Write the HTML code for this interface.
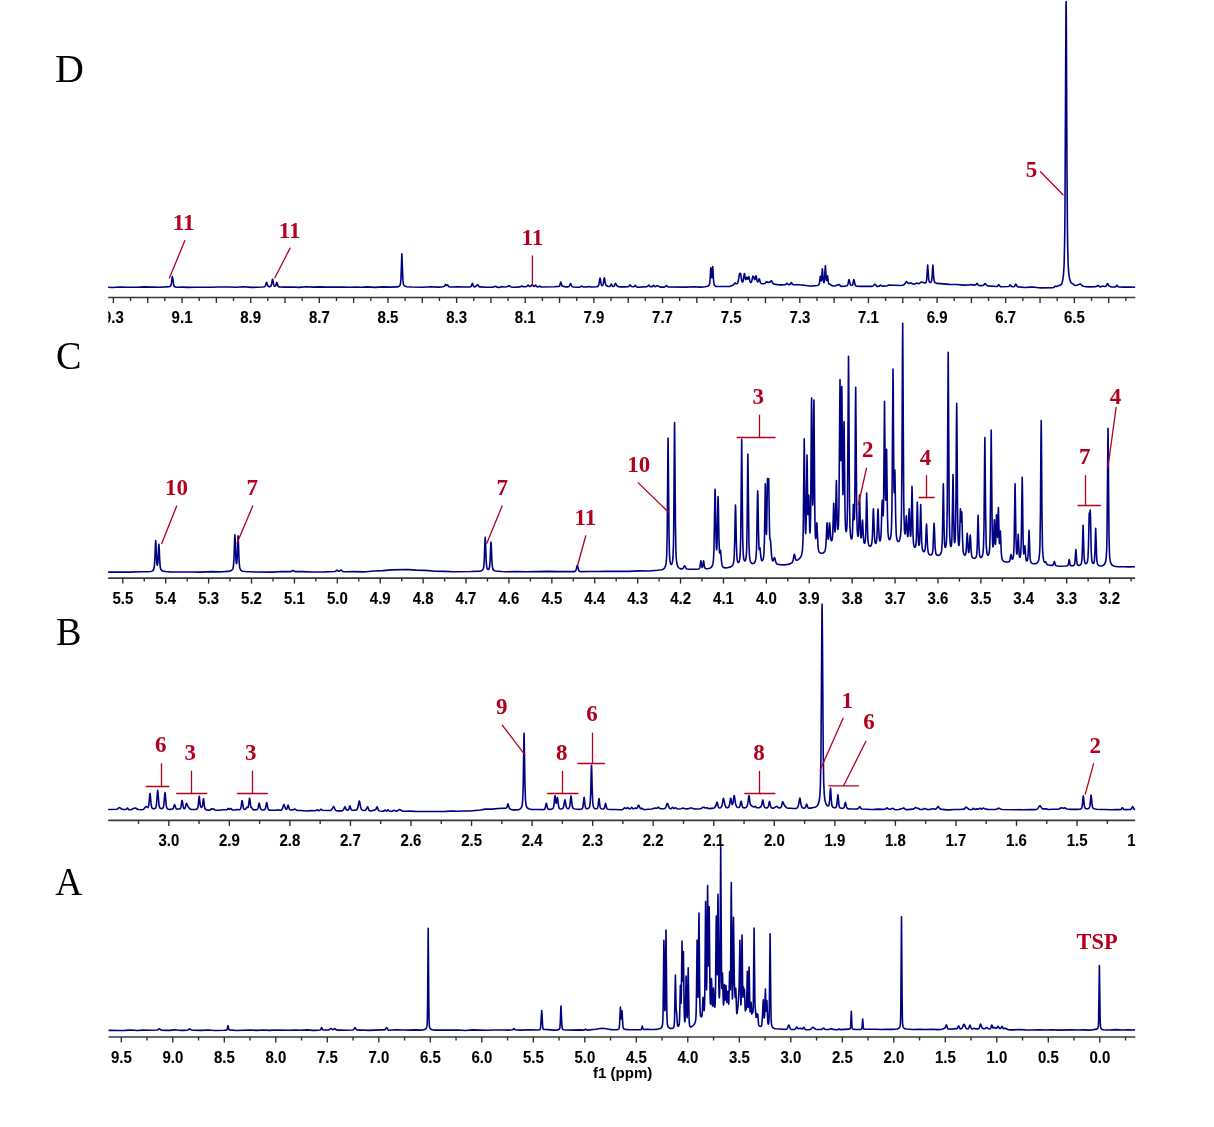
<!DOCTYPE html>
<html><head><meta charset="utf-8"><title>NMR spectra</title>
<style>html,body{margin:0;padding:0;background:#fff;}body{width:1214px;height:1127px;overflow:hidden;font-family:"Liberation Sans",sans-serif;}svg{display:block;filter:blur(0.35px);}</style>
</head><body>
<svg width="1214" height="1127" viewBox="0 0 1214 1127">
<defs><clipPath id="cD"><rect x="108.2" y="300" width="1027.2" height="40"/></clipPath><clipPath id="cC"><rect x="108.2" y="580" width="1027" height="40"/></clipPath><clipPath id="cB"><rect x="108.2" y="822" width="1027" height="40"/></clipPath><clipPath id="cA"><rect x="108.6" y="1038" width="1026.7" height="40"/></clipPath></defs>
<rect width="1214" height="1127" fill="#fff"/>
<text transform="translate(55.0,82.0) scale(1.0,1)" font-family="Liberation Serif" font-size="40" fill="#000">D</text>
<text transform="translate(56.1,369.4) scale(0.955,1)" font-family="Liberation Serif" font-size="40" fill="#000">C</text>
<text transform="translate(56.0,644.9) scale(0.955,1)" font-family="Liberation Serif" font-size="40" fill="#000">B</text>
<text transform="translate(55.2,894.8) scale(0.94,1)" font-family="Liberation Serif" font-size="40" fill="#000">A</text>
<line x1="108.2" y1="297.5" x2="1135.3" y2="297.5" stroke="#383838" stroke-width="1.7"/>
<line x1="1108.68" y1="297.5" x2="1108.68" y2="303.0" stroke="#2a2a2a" stroke-width="1.35"/>
<line x1="1074.36" y1="297.5" x2="1074.36" y2="303.0" stroke="#2a2a2a" stroke-width="1.35"/>
<line x1="1040.04" y1="297.5" x2="1040.04" y2="303.0" stroke="#2a2a2a" stroke-width="1.35"/>
<line x1="1005.72" y1="297.5" x2="1005.72" y2="303.0" stroke="#2a2a2a" stroke-width="1.35"/>
<line x1="971.40" y1="297.5" x2="971.40" y2="303.0" stroke="#2a2a2a" stroke-width="1.35"/>
<line x1="937.08" y1="297.5" x2="937.08" y2="303.0" stroke="#2a2a2a" stroke-width="1.35"/>
<line x1="902.76" y1="297.5" x2="902.76" y2="303.0" stroke="#2a2a2a" stroke-width="1.35"/>
<line x1="868.44" y1="297.5" x2="868.44" y2="303.0" stroke="#2a2a2a" stroke-width="1.35"/>
<line x1="834.12" y1="297.5" x2="834.12" y2="303.0" stroke="#2a2a2a" stroke-width="1.35"/>
<line x1="799.80" y1="297.5" x2="799.80" y2="303.0" stroke="#2a2a2a" stroke-width="1.35"/>
<line x1="765.48" y1="297.5" x2="765.48" y2="303.0" stroke="#2a2a2a" stroke-width="1.35"/>
<line x1="731.16" y1="297.5" x2="731.16" y2="303.0" stroke="#2a2a2a" stroke-width="1.35"/>
<line x1="696.84" y1="297.5" x2="696.84" y2="303.0" stroke="#2a2a2a" stroke-width="1.35"/>
<line x1="662.52" y1="297.5" x2="662.52" y2="303.0" stroke="#2a2a2a" stroke-width="1.35"/>
<line x1="628.20" y1="297.5" x2="628.20" y2="303.0" stroke="#2a2a2a" stroke-width="1.35"/>
<line x1="593.88" y1="297.5" x2="593.88" y2="303.0" stroke="#2a2a2a" stroke-width="1.35"/>
<line x1="559.56" y1="297.5" x2="559.56" y2="303.0" stroke="#2a2a2a" stroke-width="1.35"/>
<line x1="525.24" y1="297.5" x2="525.24" y2="303.0" stroke="#2a2a2a" stroke-width="1.35"/>
<line x1="490.92" y1="297.5" x2="490.92" y2="303.0" stroke="#2a2a2a" stroke-width="1.35"/>
<line x1="456.60" y1="297.5" x2="456.60" y2="303.0" stroke="#2a2a2a" stroke-width="1.35"/>
<line x1="422.28" y1="297.5" x2="422.28" y2="303.0" stroke="#2a2a2a" stroke-width="1.35"/>
<line x1="387.96" y1="297.5" x2="387.96" y2="303.0" stroke="#2a2a2a" stroke-width="1.35"/>
<line x1="353.64" y1="297.5" x2="353.64" y2="303.0" stroke="#2a2a2a" stroke-width="1.35"/>
<line x1="319.32" y1="297.5" x2="319.32" y2="303.0" stroke="#2a2a2a" stroke-width="1.35"/>
<line x1="285.00" y1="297.5" x2="285.00" y2="303.0" stroke="#2a2a2a" stroke-width="1.35"/>
<line x1="250.68" y1="297.5" x2="250.68" y2="303.0" stroke="#2a2a2a" stroke-width="1.35"/>
<line x1="216.36" y1="297.5" x2="216.36" y2="303.0" stroke="#2a2a2a" stroke-width="1.35"/>
<line x1="182.04" y1="297.5" x2="182.04" y2="303.0" stroke="#2a2a2a" stroke-width="1.35"/>
<line x1="147.72" y1="297.5" x2="147.72" y2="303.0" stroke="#2a2a2a" stroke-width="1.35"/>
<line x1="113.40" y1="297.5" x2="113.40" y2="303.0" stroke="#2a2a2a" stroke-width="1.35"/>
<line x1="1125.84" y1="297.5" x2="1125.84" y2="301.0" stroke="#2a2a2a" stroke-width="1.35"/>
<line x1="1091.52" y1="297.5" x2="1091.52" y2="301.0" stroke="#2a2a2a" stroke-width="1.35"/>
<line x1="1057.20" y1="297.5" x2="1057.20" y2="301.0" stroke="#2a2a2a" stroke-width="1.35"/>
<line x1="1022.88" y1="297.5" x2="1022.88" y2="301.0" stroke="#2a2a2a" stroke-width="1.35"/>
<line x1="988.56" y1="297.5" x2="988.56" y2="301.0" stroke="#2a2a2a" stroke-width="1.35"/>
<line x1="954.24" y1="297.5" x2="954.24" y2="301.0" stroke="#2a2a2a" stroke-width="1.35"/>
<line x1="919.92" y1="297.5" x2="919.92" y2="301.0" stroke="#2a2a2a" stroke-width="1.35"/>
<line x1="885.60" y1="297.5" x2="885.60" y2="301.0" stroke="#2a2a2a" stroke-width="1.35"/>
<line x1="851.28" y1="297.5" x2="851.28" y2="301.0" stroke="#2a2a2a" stroke-width="1.35"/>
<line x1="816.96" y1="297.5" x2="816.96" y2="301.0" stroke="#2a2a2a" stroke-width="1.35"/>
<line x1="782.64" y1="297.5" x2="782.64" y2="301.0" stroke="#2a2a2a" stroke-width="1.35"/>
<line x1="748.32" y1="297.5" x2="748.32" y2="301.0" stroke="#2a2a2a" stroke-width="1.35"/>
<line x1="714.00" y1="297.5" x2="714.00" y2="301.0" stroke="#2a2a2a" stroke-width="1.35"/>
<line x1="679.68" y1="297.5" x2="679.68" y2="301.0" stroke="#2a2a2a" stroke-width="1.35"/>
<line x1="645.36" y1="297.5" x2="645.36" y2="301.0" stroke="#2a2a2a" stroke-width="1.35"/>
<line x1="611.04" y1="297.5" x2="611.04" y2="301.0" stroke="#2a2a2a" stroke-width="1.35"/>
<line x1="576.72" y1="297.5" x2="576.72" y2="301.0" stroke="#2a2a2a" stroke-width="1.35"/>
<line x1="542.40" y1="297.5" x2="542.40" y2="301.0" stroke="#2a2a2a" stroke-width="1.35"/>
<line x1="508.08" y1="297.5" x2="508.08" y2="301.0" stroke="#2a2a2a" stroke-width="1.35"/>
<line x1="473.76" y1="297.5" x2="473.76" y2="301.0" stroke="#2a2a2a" stroke-width="1.35"/>
<line x1="439.44" y1="297.5" x2="439.44" y2="301.0" stroke="#2a2a2a" stroke-width="1.35"/>
<line x1="405.12" y1="297.5" x2="405.12" y2="301.0" stroke="#2a2a2a" stroke-width="1.35"/>
<line x1="370.80" y1="297.5" x2="370.80" y2="301.0" stroke="#2a2a2a" stroke-width="1.35"/>
<line x1="336.48" y1="297.5" x2="336.48" y2="301.0" stroke="#2a2a2a" stroke-width="1.35"/>
<line x1="302.16" y1="297.5" x2="302.16" y2="301.0" stroke="#2a2a2a" stroke-width="1.35"/>
<line x1="267.84" y1="297.5" x2="267.84" y2="301.0" stroke="#2a2a2a" stroke-width="1.35"/>
<line x1="233.52" y1="297.5" x2="233.52" y2="301.0" stroke="#2a2a2a" stroke-width="1.35"/>
<line x1="199.20" y1="297.5" x2="199.20" y2="301.0" stroke="#2a2a2a" stroke-width="1.35"/>
<line x1="164.88" y1="297.5" x2="164.88" y2="301.0" stroke="#2a2a2a" stroke-width="1.35"/>
<line x1="130.56" y1="297.5" x2="130.56" y2="301.0" stroke="#2a2a2a" stroke-width="1.35"/>
<g font-family="Liberation Sans" font-weight="bold" font-size="15" text-anchor="middle" fill="#000" stroke="#000" stroke-width="0.1" clip-path="url(#cD)"><text transform="translate(1074.36,323.00) scale(1.0,1.08)">6.5</text><text transform="translate(1005.72,323.00) scale(1.0,1.08)">6.7</text><text transform="translate(937.08,323.00) scale(1.0,1.08)">6.9</text><text transform="translate(868.44,323.00) scale(1.0,1.08)">7.1</text><text transform="translate(799.80,323.00) scale(1.0,1.08)">7.3</text><text transform="translate(731.16,323.00) scale(1.0,1.08)">7.5</text><text transform="translate(662.52,323.00) scale(1.0,1.08)">7.7</text><text transform="translate(593.88,323.00) scale(1.0,1.08)">7.9</text><text transform="translate(525.24,323.00) scale(1.0,1.08)">8.1</text><text transform="translate(456.60,323.00) scale(1.0,1.08)">8.3</text><text transform="translate(387.96,323.00) scale(1.0,1.08)">8.5</text><text transform="translate(319.32,323.00) scale(1.0,1.08)">8.7</text><text transform="translate(250.68,323.00) scale(1.0,1.08)">8.9</text><text transform="translate(182.04,323.00) scale(1.0,1.08)">9.1</text><text transform="translate(113.40,323.00) scale(1.0,1.08)">9.3</text></g>
<line x1="108.2" y1="578.1" x2="1135.1" y2="578.1" stroke="#383838" stroke-width="1.7"/>
<line x1="1109.59" y1="578.1" x2="1109.59" y2="583.6" stroke="#2a2a2a" stroke-width="1.35"/>
<line x1="1066.69" y1="578.1" x2="1066.69" y2="583.6" stroke="#2a2a2a" stroke-width="1.35"/>
<line x1="1023.78" y1="578.1" x2="1023.78" y2="583.6" stroke="#2a2a2a" stroke-width="1.35"/>
<line x1="980.88" y1="578.1" x2="980.88" y2="583.6" stroke="#2a2a2a" stroke-width="1.35"/>
<line x1="937.98" y1="578.1" x2="937.98" y2="583.6" stroke="#2a2a2a" stroke-width="1.35"/>
<line x1="895.07" y1="578.1" x2="895.07" y2="583.6" stroke="#2a2a2a" stroke-width="1.35"/>
<line x1="852.17" y1="578.1" x2="852.17" y2="583.6" stroke="#2a2a2a" stroke-width="1.35"/>
<line x1="809.26" y1="578.1" x2="809.26" y2="583.6" stroke="#2a2a2a" stroke-width="1.35"/>
<line x1="766.36" y1="578.1" x2="766.36" y2="583.6" stroke="#2a2a2a" stroke-width="1.35"/>
<line x1="723.46" y1="578.1" x2="723.46" y2="583.6" stroke="#2a2a2a" stroke-width="1.35"/>
<line x1="680.55" y1="578.1" x2="680.55" y2="583.6" stroke="#2a2a2a" stroke-width="1.35"/>
<line x1="637.65" y1="578.1" x2="637.65" y2="583.6" stroke="#2a2a2a" stroke-width="1.35"/>
<line x1="594.74" y1="578.1" x2="594.74" y2="583.6" stroke="#2a2a2a" stroke-width="1.35"/>
<line x1="551.84" y1="578.1" x2="551.84" y2="583.6" stroke="#2a2a2a" stroke-width="1.35"/>
<line x1="508.94" y1="578.1" x2="508.94" y2="583.6" stroke="#2a2a2a" stroke-width="1.35"/>
<line x1="466.03" y1="578.1" x2="466.03" y2="583.6" stroke="#2a2a2a" stroke-width="1.35"/>
<line x1="423.13" y1="578.1" x2="423.13" y2="583.6" stroke="#2a2a2a" stroke-width="1.35"/>
<line x1="380.22" y1="578.1" x2="380.22" y2="583.6" stroke="#2a2a2a" stroke-width="1.35"/>
<line x1="337.32" y1="578.1" x2="337.32" y2="583.6" stroke="#2a2a2a" stroke-width="1.35"/>
<line x1="294.42" y1="578.1" x2="294.42" y2="583.6" stroke="#2a2a2a" stroke-width="1.35"/>
<line x1="251.51" y1="578.1" x2="251.51" y2="583.6" stroke="#2a2a2a" stroke-width="1.35"/>
<line x1="208.61" y1="578.1" x2="208.61" y2="583.6" stroke="#2a2a2a" stroke-width="1.35"/>
<line x1="165.70" y1="578.1" x2="165.70" y2="583.6" stroke="#2a2a2a" stroke-width="1.35"/>
<line x1="122.80" y1="578.1" x2="122.80" y2="583.6" stroke="#2a2a2a" stroke-width="1.35"/>
<line x1="1131.04" y1="578.1" x2="1131.04" y2="581.6" stroke="#2a2a2a" stroke-width="1.35"/>
<line x1="1088.14" y1="578.1" x2="1088.14" y2="581.6" stroke="#2a2a2a" stroke-width="1.35"/>
<line x1="1045.24" y1="578.1" x2="1045.24" y2="581.6" stroke="#2a2a2a" stroke-width="1.35"/>
<line x1="1002.33" y1="578.1" x2="1002.33" y2="581.6" stroke="#2a2a2a" stroke-width="1.35"/>
<line x1="959.43" y1="578.1" x2="959.43" y2="581.6" stroke="#2a2a2a" stroke-width="1.35"/>
<line x1="916.52" y1="578.1" x2="916.52" y2="581.6" stroke="#2a2a2a" stroke-width="1.35"/>
<line x1="873.62" y1="578.1" x2="873.62" y2="581.6" stroke="#2a2a2a" stroke-width="1.35"/>
<line x1="830.72" y1="578.1" x2="830.72" y2="581.6" stroke="#2a2a2a" stroke-width="1.35"/>
<line x1="787.81" y1="578.1" x2="787.81" y2="581.6" stroke="#2a2a2a" stroke-width="1.35"/>
<line x1="744.91" y1="578.1" x2="744.91" y2="581.6" stroke="#2a2a2a" stroke-width="1.35"/>
<line x1="702.00" y1="578.1" x2="702.00" y2="581.6" stroke="#2a2a2a" stroke-width="1.35"/>
<line x1="659.10" y1="578.1" x2="659.10" y2="581.6" stroke="#2a2a2a" stroke-width="1.35"/>
<line x1="616.20" y1="578.1" x2="616.20" y2="581.6" stroke="#2a2a2a" stroke-width="1.35"/>
<line x1="573.29" y1="578.1" x2="573.29" y2="581.6" stroke="#2a2a2a" stroke-width="1.35"/>
<line x1="530.39" y1="578.1" x2="530.39" y2="581.6" stroke="#2a2a2a" stroke-width="1.35"/>
<line x1="487.48" y1="578.1" x2="487.48" y2="581.6" stroke="#2a2a2a" stroke-width="1.35"/>
<line x1="444.58" y1="578.1" x2="444.58" y2="581.6" stroke="#2a2a2a" stroke-width="1.35"/>
<line x1="401.68" y1="578.1" x2="401.68" y2="581.6" stroke="#2a2a2a" stroke-width="1.35"/>
<line x1="358.77" y1="578.1" x2="358.77" y2="581.6" stroke="#2a2a2a" stroke-width="1.35"/>
<line x1="315.87" y1="578.1" x2="315.87" y2="581.6" stroke="#2a2a2a" stroke-width="1.35"/>
<line x1="272.96" y1="578.1" x2="272.96" y2="581.6" stroke="#2a2a2a" stroke-width="1.35"/>
<line x1="230.06" y1="578.1" x2="230.06" y2="581.6" stroke="#2a2a2a" stroke-width="1.35"/>
<line x1="187.16" y1="578.1" x2="187.16" y2="581.6" stroke="#2a2a2a" stroke-width="1.35"/>
<line x1="144.25" y1="578.1" x2="144.25" y2="581.6" stroke="#2a2a2a" stroke-width="1.35"/>
<g font-family="Liberation Sans" font-weight="bold" font-size="15" text-anchor="middle" fill="#000" stroke="#000" stroke-width="0.1" clip-path="url(#cC)"><text transform="translate(1109.59,603.60) scale(1.0,1.08)">3.2</text><text transform="translate(1066.69,603.60) scale(1.0,1.08)">3.3</text><text transform="translate(1023.78,603.60) scale(1.0,1.08)">3.4</text><text transform="translate(980.88,603.60) scale(1.0,1.08)">3.5</text><text transform="translate(937.98,603.60) scale(1.0,1.08)">3.6</text><text transform="translate(895.07,603.60) scale(1.0,1.08)">3.7</text><text transform="translate(852.17,603.60) scale(1.0,1.08)">3.8</text><text transform="translate(809.26,603.60) scale(1.0,1.08)">3.9</text><text transform="translate(766.36,603.60) scale(1.0,1.08)">4.0</text><text transform="translate(723.46,603.60) scale(1.0,1.08)">4.1</text><text transform="translate(680.55,603.60) scale(1.0,1.08)">4.2</text><text transform="translate(637.65,603.60) scale(1.0,1.08)">4.3</text><text transform="translate(594.74,603.60) scale(1.0,1.08)">4.4</text><text transform="translate(551.84,603.60) scale(1.0,1.08)">4.5</text><text transform="translate(508.94,603.60) scale(1.0,1.08)">4.6</text><text transform="translate(466.03,603.60) scale(1.0,1.08)">4.7</text><text transform="translate(423.13,603.60) scale(1.0,1.08)">4.8</text><text transform="translate(380.22,603.60) scale(1.0,1.08)">4.9</text><text transform="translate(337.32,603.60) scale(1.0,1.08)">5.0</text><text transform="translate(294.42,603.60) scale(1.0,1.08)">5.1</text><text transform="translate(251.51,603.60) scale(1.0,1.08)">5.2</text><text transform="translate(208.61,603.60) scale(1.0,1.08)">5.3</text><text transform="translate(165.70,603.60) scale(1.0,1.08)">5.4</text><text transform="translate(122.80,603.60) scale(1.0,1.08)">5.5</text></g>
<line x1="108.2" y1="820.4" x2="1135.2" y2="820.4" stroke="#383838" stroke-width="1.7"/>
<line x1="1077.05" y1="820.4" x2="1077.05" y2="825.9" stroke="#2a2a2a" stroke-width="1.35"/>
<line x1="1016.50" y1="820.4" x2="1016.50" y2="825.9" stroke="#2a2a2a" stroke-width="1.35"/>
<line x1="955.95" y1="820.4" x2="955.95" y2="825.9" stroke="#2a2a2a" stroke-width="1.35"/>
<line x1="895.40" y1="820.4" x2="895.40" y2="825.9" stroke="#2a2a2a" stroke-width="1.35"/>
<line x1="834.85" y1="820.4" x2="834.85" y2="825.9" stroke="#2a2a2a" stroke-width="1.35"/>
<line x1="774.30" y1="820.4" x2="774.30" y2="825.9" stroke="#2a2a2a" stroke-width="1.35"/>
<line x1="713.75" y1="820.4" x2="713.75" y2="825.9" stroke="#2a2a2a" stroke-width="1.35"/>
<line x1="653.20" y1="820.4" x2="653.20" y2="825.9" stroke="#2a2a2a" stroke-width="1.35"/>
<line x1="592.65" y1="820.4" x2="592.65" y2="825.9" stroke="#2a2a2a" stroke-width="1.35"/>
<line x1="532.10" y1="820.4" x2="532.10" y2="825.9" stroke="#2a2a2a" stroke-width="1.35"/>
<line x1="471.55" y1="820.4" x2="471.55" y2="825.9" stroke="#2a2a2a" stroke-width="1.35"/>
<line x1="411.00" y1="820.4" x2="411.00" y2="825.9" stroke="#2a2a2a" stroke-width="1.35"/>
<line x1="350.45" y1="820.4" x2="350.45" y2="825.9" stroke="#2a2a2a" stroke-width="1.35"/>
<line x1="289.90" y1="820.4" x2="289.90" y2="825.9" stroke="#2a2a2a" stroke-width="1.35"/>
<line x1="229.35" y1="820.4" x2="229.35" y2="825.9" stroke="#2a2a2a" stroke-width="1.35"/>
<line x1="168.80" y1="820.4" x2="168.80" y2="825.9" stroke="#2a2a2a" stroke-width="1.35"/>
<line x1="1107.33" y1="820.4" x2="1107.33" y2="823.9" stroke="#2a2a2a" stroke-width="1.35"/>
<line x1="1046.78" y1="820.4" x2="1046.78" y2="823.9" stroke="#2a2a2a" stroke-width="1.35"/>
<line x1="986.23" y1="820.4" x2="986.23" y2="823.9" stroke="#2a2a2a" stroke-width="1.35"/>
<line x1="925.67" y1="820.4" x2="925.67" y2="823.9" stroke="#2a2a2a" stroke-width="1.35"/>
<line x1="865.12" y1="820.4" x2="865.12" y2="823.9" stroke="#2a2a2a" stroke-width="1.35"/>
<line x1="804.58" y1="820.4" x2="804.58" y2="823.9" stroke="#2a2a2a" stroke-width="1.35"/>
<line x1="744.03" y1="820.4" x2="744.03" y2="823.9" stroke="#2a2a2a" stroke-width="1.35"/>
<line x1="683.48" y1="820.4" x2="683.48" y2="823.9" stroke="#2a2a2a" stroke-width="1.35"/>
<line x1="622.92" y1="820.4" x2="622.92" y2="823.9" stroke="#2a2a2a" stroke-width="1.35"/>
<line x1="562.38" y1="820.4" x2="562.38" y2="823.9" stroke="#2a2a2a" stroke-width="1.35"/>
<line x1="501.82" y1="820.4" x2="501.82" y2="823.9" stroke="#2a2a2a" stroke-width="1.35"/>
<line x1="441.28" y1="820.4" x2="441.28" y2="823.9" stroke="#2a2a2a" stroke-width="1.35"/>
<line x1="380.73" y1="820.4" x2="380.73" y2="823.9" stroke="#2a2a2a" stroke-width="1.35"/>
<line x1="320.18" y1="820.4" x2="320.18" y2="823.9" stroke="#2a2a2a" stroke-width="1.35"/>
<line x1="259.62" y1="820.4" x2="259.62" y2="823.9" stroke="#2a2a2a" stroke-width="1.35"/>
<line x1="199.07" y1="820.4" x2="199.07" y2="823.9" stroke="#2a2a2a" stroke-width="1.35"/>
<line x1="138.53" y1="820.4" x2="138.53" y2="823.9" stroke="#2a2a2a" stroke-width="1.35"/>
<g font-family="Liberation Sans" font-weight="bold" font-size="15" text-anchor="middle" fill="#000" stroke="#000" stroke-width="0.1" clip-path="url(#cB)"><text transform="translate(1137.60,845.90) scale(1.0,1.08)">1.4</text><text transform="translate(1077.05,845.90) scale(1.0,1.08)">1.5</text><text transform="translate(1016.50,845.90) scale(1.0,1.08)">1.6</text><text transform="translate(955.95,845.90) scale(1.0,1.08)">1.7</text><text transform="translate(895.40,845.90) scale(1.0,1.08)">1.8</text><text transform="translate(834.85,845.90) scale(1.0,1.08)">1.9</text><text transform="translate(774.30,845.90) scale(1.0,1.08)">2.0</text><text transform="translate(713.75,845.90) scale(1.0,1.08)">2.1</text><text transform="translate(653.20,845.90) scale(1.0,1.08)">2.2</text><text transform="translate(592.65,845.90) scale(1.0,1.08)">2.3</text><text transform="translate(532.10,845.90) scale(1.0,1.08)">2.4</text><text transform="translate(471.55,845.90) scale(1.0,1.08)">2.5</text><text transform="translate(411.00,845.90) scale(1.0,1.08)">2.6</text><text transform="translate(350.45,845.90) scale(1.0,1.08)">2.7</text><text transform="translate(289.90,845.90) scale(1.0,1.08)">2.8</text><text transform="translate(229.35,845.90) scale(1.0,1.08)">2.9</text><text transform="translate(168.80,845.90) scale(1.0,1.08)">3.0</text></g>
<line x1="108.6" y1="1037.0" x2="1135.3" y2="1037.0" stroke="#383838" stroke-width="1.7"/>
<line x1="1099.80" y1="1037.0" x2="1099.80" y2="1042.5" stroke="#2a2a2a" stroke-width="1.35"/>
<line x1="1048.30" y1="1037.0" x2="1048.30" y2="1042.5" stroke="#2a2a2a" stroke-width="1.35"/>
<line x1="996.80" y1="1037.0" x2="996.80" y2="1042.5" stroke="#2a2a2a" stroke-width="1.35"/>
<line x1="945.30" y1="1037.0" x2="945.30" y2="1042.5" stroke="#2a2a2a" stroke-width="1.35"/>
<line x1="893.80" y1="1037.0" x2="893.80" y2="1042.5" stroke="#2a2a2a" stroke-width="1.35"/>
<line x1="842.30" y1="1037.0" x2="842.30" y2="1042.5" stroke="#2a2a2a" stroke-width="1.35"/>
<line x1="790.80" y1="1037.0" x2="790.80" y2="1042.5" stroke="#2a2a2a" stroke-width="1.35"/>
<line x1="739.30" y1="1037.0" x2="739.30" y2="1042.5" stroke="#2a2a2a" stroke-width="1.35"/>
<line x1="687.80" y1="1037.0" x2="687.80" y2="1042.5" stroke="#2a2a2a" stroke-width="1.35"/>
<line x1="636.30" y1="1037.0" x2="636.30" y2="1042.5" stroke="#2a2a2a" stroke-width="1.35"/>
<line x1="584.80" y1="1037.0" x2="584.80" y2="1042.5" stroke="#2a2a2a" stroke-width="1.35"/>
<line x1="533.30" y1="1037.0" x2="533.30" y2="1042.5" stroke="#2a2a2a" stroke-width="1.35"/>
<line x1="481.80" y1="1037.0" x2="481.80" y2="1042.5" stroke="#2a2a2a" stroke-width="1.35"/>
<line x1="430.30" y1="1037.0" x2="430.30" y2="1042.5" stroke="#2a2a2a" stroke-width="1.35"/>
<line x1="378.80" y1="1037.0" x2="378.80" y2="1042.5" stroke="#2a2a2a" stroke-width="1.35"/>
<line x1="327.30" y1="1037.0" x2="327.30" y2="1042.5" stroke="#2a2a2a" stroke-width="1.35"/>
<line x1="275.80" y1="1037.0" x2="275.80" y2="1042.5" stroke="#2a2a2a" stroke-width="1.35"/>
<line x1="224.30" y1="1037.0" x2="224.30" y2="1042.5" stroke="#2a2a2a" stroke-width="1.35"/>
<line x1="172.80" y1="1037.0" x2="172.80" y2="1042.5" stroke="#2a2a2a" stroke-width="1.35"/>
<line x1="121.30" y1="1037.0" x2="121.30" y2="1042.5" stroke="#2a2a2a" stroke-width="1.35"/>
<line x1="1125.55" y1="1037.0" x2="1125.55" y2="1040.5" stroke="#2a2a2a" stroke-width="1.35"/>
<line x1="1074.05" y1="1037.0" x2="1074.05" y2="1040.5" stroke="#2a2a2a" stroke-width="1.35"/>
<line x1="1022.55" y1="1037.0" x2="1022.55" y2="1040.5" stroke="#2a2a2a" stroke-width="1.35"/>
<line x1="971.05" y1="1037.0" x2="971.05" y2="1040.5" stroke="#2a2a2a" stroke-width="1.35"/>
<line x1="919.55" y1="1037.0" x2="919.55" y2="1040.5" stroke="#2a2a2a" stroke-width="1.35"/>
<line x1="868.05" y1="1037.0" x2="868.05" y2="1040.5" stroke="#2a2a2a" stroke-width="1.35"/>
<line x1="816.55" y1="1037.0" x2="816.55" y2="1040.5" stroke="#2a2a2a" stroke-width="1.35"/>
<line x1="765.05" y1="1037.0" x2="765.05" y2="1040.5" stroke="#2a2a2a" stroke-width="1.35"/>
<line x1="713.55" y1="1037.0" x2="713.55" y2="1040.5" stroke="#2a2a2a" stroke-width="1.35"/>
<line x1="662.05" y1="1037.0" x2="662.05" y2="1040.5" stroke="#2a2a2a" stroke-width="1.35"/>
<line x1="610.55" y1="1037.0" x2="610.55" y2="1040.5" stroke="#2a2a2a" stroke-width="1.35"/>
<line x1="559.05" y1="1037.0" x2="559.05" y2="1040.5" stroke="#2a2a2a" stroke-width="1.35"/>
<line x1="507.55" y1="1037.0" x2="507.55" y2="1040.5" stroke="#2a2a2a" stroke-width="1.35"/>
<line x1="456.05" y1="1037.0" x2="456.05" y2="1040.5" stroke="#2a2a2a" stroke-width="1.35"/>
<line x1="404.55" y1="1037.0" x2="404.55" y2="1040.5" stroke="#2a2a2a" stroke-width="1.35"/>
<line x1="353.05" y1="1037.0" x2="353.05" y2="1040.5" stroke="#2a2a2a" stroke-width="1.35"/>
<line x1="301.55" y1="1037.0" x2="301.55" y2="1040.5" stroke="#2a2a2a" stroke-width="1.35"/>
<line x1="250.05" y1="1037.0" x2="250.05" y2="1040.5" stroke="#2a2a2a" stroke-width="1.35"/>
<line x1="198.55" y1="1037.0" x2="198.55" y2="1040.5" stroke="#2a2a2a" stroke-width="1.35"/>
<line x1="147.05" y1="1037.0" x2="147.05" y2="1040.5" stroke="#2a2a2a" stroke-width="1.35"/>
<g font-family="Liberation Sans" font-weight="bold" font-size="15" text-anchor="middle" fill="#000" stroke="#000" stroke-width="0.1" clip-path="url(#cA)"><text transform="translate(1099.80,1062.50) scale(1.0,1.08)">0.0</text><text transform="translate(1048.30,1062.50) scale(1.0,1.08)">0.5</text><text transform="translate(996.80,1062.50) scale(1.0,1.08)">1.0</text><text transform="translate(945.30,1062.50) scale(1.0,1.08)">1.5</text><text transform="translate(893.80,1062.50) scale(1.0,1.08)">2.0</text><text transform="translate(842.30,1062.50) scale(1.0,1.08)">2.5</text><text transform="translate(790.80,1062.50) scale(1.0,1.08)">3.0</text><text transform="translate(739.30,1062.50) scale(1.0,1.08)">3.5</text><text transform="translate(687.80,1062.50) scale(1.0,1.08)">4.0</text><text transform="translate(636.30,1062.50) scale(1.0,1.08)">4.5</text><text transform="translate(584.80,1062.50) scale(1.0,1.08)">5.0</text><text transform="translate(533.30,1062.50) scale(1.0,1.08)">5.5</text><text transform="translate(481.80,1062.50) scale(1.0,1.08)">6.0</text><text transform="translate(430.30,1062.50) scale(1.0,1.08)">6.5</text><text transform="translate(378.80,1062.50) scale(1.0,1.08)">7.0</text><text transform="translate(327.30,1062.50) scale(1.0,1.08)">7.5</text><text transform="translate(275.80,1062.50) scale(1.0,1.08)">8.0</text><text transform="translate(224.30,1062.50) scale(1.0,1.08)">8.5</text><text transform="translate(172.80,1062.50) scale(1.0,1.08)">9.0</text><text transform="translate(121.30,1062.50) scale(1.0,1.08)">9.5</text></g>
<text x="622.7" y="1078" font-family="Liberation Sans" font-weight="bold" font-size="15" text-anchor="middle">f1 (ppm)</text>
<g fill="none" stroke="#000082" stroke-width="1.6" stroke-linejoin="round">
<path d="M108.20,287.28 112.20,287.55 119.70,286.94 127.95,287.24 136.95,287.20 144.20,286.92 159.95,287.24 169.20,286.62 170.20,286.28 170.70,285.74 170.95,285.18 171.45,282.93 172.20,277.13 172.40,276.57 172.70,277.82 173.45,283.72 173.95,285.71 174.45,286.52 174.95,286.86 175.70,287.09 176.70,287.21 181.95,287.12 188.70,287.42 194.70,287.19 201.70,287.28 211.70,287.19 218.20,286.95 228.95,286.94 236.20,287.21 243.45,286.73 251.45,287.39 262.45,287.04 264.20,286.81 264.95,286.43 265.45,285.67 266.45,282.38 266.60,282.23 266.95,282.93 267.45,284.78 267.95,285.95 268.20,286.25 268.70,286.54 269.70,286.62 270.20,286.53 270.70,286.26 271.20,285.53 271.70,283.72 272.20,280.69 272.45,279.46 272.60,279.22 272.95,280.40 273.70,284.63 273.95,285.42 274.45,286.19 274.95,286.33 275.45,286.00 275.95,284.93 276.45,283.15 276.80,282.48 277.20,283.38 277.70,285.20 278.20,286.30 278.95,286.86 280.20,287.06 284.95,287.13 291.95,287.00 298.95,287.33 306.45,286.82 312.95,287.17 319.70,286.91 326.45,287.16 342.45,287.05 349.95,287.25 355.45,287.13 361.20,287.18 367.45,286.90 374.95,287.42 382.45,286.84 390.45,287.11 396.95,286.92 398.45,286.61 399.45,286.02 399.95,285.36 400.45,283.86 400.95,278.99 401.70,256.92 401.90,253.88 402.70,275.95 402.95,280.40 403.45,284.17 403.70,284.90 404.20,285.69 405.20,286.33 406.95,286.70 411.20,287.01 422.95,287.23 430.70,286.79 436.70,287.17 439.45,287.11 442.70,286.78 443.95,286.51 444.70,285.87 445.60,284.46 446.45,285.35 446.70,285.39 447.50,284.85 448.70,286.47 449.20,286.76 450.20,286.95 452.20,287.04 457.70,286.88 464.45,287.03 469.20,286.97 470.45,286.80 470.95,286.52 471.45,285.76 472.20,283.56 472.40,283.33 472.70,283.82 473.20,285.41 473.70,286.39 474.20,286.78 474.70,286.88 475.45,286.64 476.70,285.37 477.70,284.70 477.95,284.91 478.95,286.54 479.45,286.82 479.95,286.92 486.45,287.21 492.95,287.14 493.70,287.02 494.95,286.40 495.45,286.30 495.95,286.46 497.20,287.20 498.70,287.40 500.45,287.24 501.95,286.44 503.70,286.93 506.95,286.72 507.70,286.49 508.95,285.77 509.45,285.89 510.95,286.95 512.70,287.20 515.45,287.23 519.95,286.91 520.45,286.79 521.70,286.04 521.95,286.07 523.20,286.75 525.45,286.74 526.45,286.58 526.95,286.31 528.10,284.94 529.20,286.19 529.70,286.42 530.20,286.43 530.95,286.04 531.95,284.65 532.20,284.52 532.45,284.70 533.20,285.88 533.70,286.32 534.20,286.40 534.45,286.30 535.60,285.11 536.70,286.46 537.20,286.75 537.95,286.90 538.70,286.79 539.70,286.01 539.95,286.05 540.95,286.86 541.45,286.95 554.70,286.82 557.20,286.45 558.70,286.48 559.20,286.34 559.70,285.67 560.45,282.91 560.80,282.06 560.95,282.24 561.70,285.11 562.20,286.08 562.70,286.30 563.70,286.34 565.45,286.92 567.45,286.86 568.95,286.51 569.45,286.02 570.45,283.59 570.60,283.48 570.95,284.08 571.45,285.54 571.95,286.41 572.45,286.78 573.45,287.05 576.20,287.27 579.70,287.10 580.45,286.87 581.45,286.06 581.70,286.00 582.95,286.81 583.70,286.98 586.70,287.03 588.70,286.55 590.70,287.05 592.20,287.05 596.70,286.68 597.70,286.38 598.20,286.02 598.70,285.09 598.95,284.17 599.70,279.19 600.00,278.06 600.20,278.56 601.20,284.50 601.70,285.47 601.95,285.62 602.45,285.55 602.95,284.84 603.20,284.03 603.95,279.19 604.30,277.70 604.45,277.98 605.20,282.85 605.70,284.67 605.95,285.10 606.45,285.55 607.70,286.20 608.70,286.48 609.45,286.48 609.95,286.26 610.45,285.61 610.95,284.46 611.30,284.00 611.45,284.10 612.45,286.10 612.95,286.45 613.70,286.44 614.20,286.05 614.45,285.65 615.20,283.71 615.45,283.42 615.70,283.66 616.70,285.46 617.70,286.30 618.70,286.70 620.70,286.87 624.70,286.91 627.95,286.63 628.45,286.49 628.95,286.17 629.70,285.14 630.00,284.92 630.20,285.02 630.95,286.05 631.70,286.51 633.20,286.70 633.95,286.60 634.45,286.25 634.95,285.59 635.30,285.34 636.20,286.51 636.70,286.94 637.45,287.17 638.45,287.24 646.95,286.61 647.70,286.30 648.80,285.08 649.95,286.43 650.45,286.69 651.20,286.80 652.20,286.63 653.50,285.27 653.70,285.38 654.45,286.36 654.95,286.64 655.45,286.60 656.95,285.80 657.45,285.70 657.95,285.85 659.70,286.91 660.95,287.12 663.70,287.10 664.70,286.96 665.20,286.67 665.95,285.87 666.45,285.66 667.70,286.67 668.45,286.87 685.95,287.14 693.70,286.75 699.45,287.13 701.70,287.09 704.95,286.72 707.45,286.26 708.45,285.82 709.20,284.96 709.70,283.06 709.95,280.84 710.80,267.85 710.95,268.61 711.45,276.08 711.70,277.69 711.95,276.72 712.45,268.76 712.70,266.45 712.95,269.32 713.45,279.16 713.95,283.85 714.20,284.78 714.70,285.63 715.45,286.16 716.20,286.38 718.45,286.52 729.95,286.37 732.20,285.54 733.20,285.01 735.00,283.04 736.20,283.69 736.95,283.67 737.45,283.26 737.70,282.85 738.20,281.34 739.45,274.01 739.70,273.60 740.45,273.27 740.70,274.03 741.70,280.58 741.95,281.37 742.20,281.81 742.45,281.95 742.70,281.84 742.95,281.44 743.20,280.67 744.20,274.04 744.40,273.48 744.70,274.51 745.20,277.99 745.45,279.16 745.70,279.67 745.95,279.56 746.80,277.33 746.95,277.45 747.45,278.84 747.70,279.19 747.95,279.00 748.45,277.30 748.80,276.58 748.95,276.85 749.95,281.41 750.20,281.99 750.70,282.46 751.20,282.28 751.70,281.33 752.70,276.66 752.95,276.13 753.20,276.18 753.70,276.80 754.45,279.26 754.70,279.66 754.95,279.53 755.20,278.84 755.70,276.46 756.00,275.76 756.20,276.21 756.95,280.27 757.45,281.68 757.70,281.88 757.95,281.78 758.20,281.40 758.95,279.08 759.20,278.76 759.45,279.20 760.20,281.96 760.70,282.99 761.20,283.44 762.20,283.75 763.70,283.80 764.70,283.57 765.45,282.99 766.20,281.96 766.60,281.64 766.95,281.80 767.45,282.34 767.95,282.65 768.20,282.64 769.10,282.06 769.95,282.19 771.20,280.75 771.45,280.77 771.70,281.08 772.70,283.07 773.45,283.86 774.45,284.24 776.00,284.36 777.70,284.74 780.20,284.83 784.95,284.69 785.70,284.42 786.70,283.29 786.90,283.20 788.20,284.50 788.70,284.67 789.45,284.67 790.20,284.23 790.95,283.00 791.30,282.65 791.45,282.71 792.45,284.20 792.95,284.53 793.45,284.65 799.95,284.78 809.95,285.94 812.95,285.88 817.20,285.47 818.20,285.16 818.70,284.81 819.20,283.85 819.45,282.74 820.30,276.26 820.45,276.60 820.95,280.19 821.20,280.94 821.45,280.31 821.70,278.11 822.20,270.35 822.40,268.91 823.20,279.58 823.45,281.58 823.70,282.49 823.95,282.60 824.20,281.97 824.45,280.33 825.20,267.57 825.40,265.78 826.20,278.24 826.45,280.21 826.70,280.43 827.50,275.78 827.70,276.71 828.20,281.33 828.70,283.58 829.20,284.11 830.20,284.50 831.95,285.62 833.45,285.93 834.95,285.98 835.70,285.78 837.20,285.01 838.45,284.89 839.20,284.57 839.45,284.61 839.70,284.84 840.45,285.95 840.70,286.17 841.20,286.34 844.95,286.09 846.70,285.80 847.20,285.54 847.70,284.85 848.20,283.12 848.70,280.35 849.00,279.49 849.20,279.89 849.70,282.53 850.20,284.32 850.70,284.90 851.95,285.37 852.45,285.12 852.70,284.67 853.70,280.07 853.90,279.68 854.20,280.54 854.70,283.31 855.20,285.05 855.70,285.75 856.45,286.09 857.95,286.29 860.45,286.39 871.95,286.34 872.95,286.02 874.45,284.49 874.95,284.20 875.45,284.55 876.20,285.72 876.70,286.20 877.20,286.37 878.20,286.40 879.20,286.16 880.45,285.09 880.95,285.30 881.70,285.97 882.70,286.17 886.20,285.98 887.20,285.72 888.70,285.10 889.45,284.95 892.20,285.31 895.20,285.27 899.70,285.44 902.20,285.24 903.45,284.91 904.45,284.27 905.20,283.34 905.95,282.06 906.45,281.60 906.95,281.92 907.95,283.05 908.45,283.34 909.20,283.40 910.45,282.93 910.95,282.90 912.45,283.93 913.20,284.09 914.45,284.04 915.20,283.88 916.80,283.03 918.20,283.61 918.95,283.62 919.45,283.40 920.70,282.29 921.20,282.16 922.45,282.28 924.45,283.07 925.20,283.01 925.70,282.72 926.20,281.97 926.70,279.54 927.70,264.97 928.70,279.29 929.20,281.59 929.70,282.21 930.20,282.37 930.70,282.27 931.20,281.85 931.70,280.48 932.20,275.80 932.70,266.78 932.90,265.14 933.70,277.25 934.20,281.05 934.70,282.20 935.20,282.67 936.20,283.14 937.45,283.42 948.95,284.42 956.95,284.45 963.70,285.14 969.70,285.05 971.45,284.54 972.70,285.06 973.20,285.12 974.45,284.85 975.45,284.88 975.95,284.76 977.10,283.23 977.45,283.66 977.95,284.67 978.45,285.25 979.20,285.53 980.95,285.63 982.70,285.56 983.45,285.34 983.95,284.85 984.70,283.61 984.95,283.53 986.95,285.52 987.70,285.85 996.95,286.47 997.45,286.26 998.45,284.93 998.70,284.69 998.95,284.67 1000.20,286.43 1000.70,286.68 1001.20,286.73 1008.45,286.50 1009.20,286.08 1009.95,284.97 1010.20,284.80 1010.45,285.00 1011.20,286.17 1011.70,286.55 1012.45,286.72 1013.70,286.70 1014.20,286.55 1014.70,286.13 1015.45,284.57 1015.80,284.10 1015.95,284.20 1016.95,286.21 1017.45,286.62 1018.45,286.87 1024.95,287.45 1030.45,287.09 1032.70,287.07 1038.70,287.75 1040.95,287.89 1052.70,287.70 1053.45,287.58 1053.95,287.35 1054.95,286.39 1055.45,286.12 1056.45,286.51 1056.95,286.57 1058.70,285.48 1060.45,285.11 1060.95,284.80 1061.70,283.75 1062.20,282.42 1062.95,278.89 1063.45,274.90 1063.95,268.01 1064.20,262.17 1064.70,237.68 1064.95,212.74 1065.95,9.70 1066.10,1.60 1066.20,3.91 1066.45,46.60 1066.95,162.91 1067.45,231.27 1067.70,248.25 1068.20,265.15 1068.70,272.61 1069.20,276.65 1069.70,279.09 1070.45,281.38 1071.20,282.74 1071.70,283.19 1072.95,283.69 1074.20,285.01 1074.70,285.27 1075.45,285.44 1076.95,285.29 1080.20,284.05 1080.70,284.22 1081.95,285.51 1082.70,285.97 1083.70,286.28 1085.70,286.62 1088.95,286.85 1095.45,286.60 1096.70,286.31 1097.70,285.59 1098.20,285.45 1099.70,286.68 1100.45,286.86 1100.95,286.78 1102.70,286.12 1103.20,286.15 1104.70,286.58 1105.45,286.42 1106.20,285.78 1107.20,283.90 1107.50,283.57 1107.70,283.67 1108.70,285.36 1109.45,286.13 1110.45,286.66 1111.45,286.87 1113.95,287.00 1115.45,286.85 1115.95,286.54 1116.70,285.48 1117.00,285.25 1117.20,285.36 1118.20,286.68 1119.20,287.00 1123.95,287.12 1130.95,287.00 1135.20,287.22"/>
<path d="M108.20,572.15 120.95,571.93 130.45,572.10 139.70,571.72 147.70,571.78 150.70,571.50 151.70,571.23 152.45,570.87 153.20,570.22 153.70,569.39 154.20,567.51 154.45,565.54 154.95,557.27 155.45,543.80 155.70,540.54 155.95,543.54 156.70,561.05 156.95,563.84 157.20,565.10 157.45,565.13 157.70,563.94 157.95,561.32 158.70,546.03 158.90,544.34 159.20,548.25 159.70,559.90 160.20,566.51 160.45,568.05 160.95,569.53 161.70,570.44 162.70,570.98 165.45,571.56 170.20,571.87 182.95,572.07 192.45,571.96 200.45,572.08 211.20,571.66 219.20,571.86 222.45,571.82 227.45,571.42 230.45,570.88 231.70,570.30 232.45,569.53 232.95,568.52 233.45,566.11 233.95,559.34 234.70,537.37 234.90,534.81 235.20,539.73 235.95,559.74 236.20,562.58 236.45,563.68 236.70,563.28 236.95,561.31 237.20,557.39 237.95,537.19 238.10,535.92 238.45,542.59 238.95,557.62 239.20,562.51 239.70,567.40 240.20,569.17 240.70,569.99 241.20,570.48 241.95,570.92 242.70,571.17 245.20,571.54 255.20,571.98 272.45,572.10 282.45,571.52 290.45,571.59 291.45,571.41 293.00,570.51 294.45,571.37 295.70,571.60 302.45,571.63 312.20,572.06 324.95,571.90 334.70,571.48 335.70,571.15 336.70,570.37 337.00,570.27 338.45,571.16 339.20,571.23 339.70,571.02 340.70,570.10 341.00,569.99 341.45,570.28 342.45,571.29 342.95,571.53 343.95,571.71 346.45,571.78 353.95,571.64 362.95,571.88 366.20,571.73 373.95,571.04 382.70,570.61 391.70,569.90 404.45,569.52 408.45,569.61 416.45,570.09 424.70,570.33 435.45,571.32 444.70,571.41 453.20,571.76 471.20,571.56 479.95,571.15 481.70,570.71 482.70,569.95 483.20,569.10 483.70,567.08 484.20,561.30 484.95,540.75 485.20,537.20 485.45,540.71 486.20,561.14 486.45,564.71 486.95,568.00 487.20,568.69 487.70,569.34 488.20,569.50 488.70,569.29 489.20,568.48 489.70,565.98 490.20,558.86 490.70,546.18 491.00,542.01 491.20,544.03 491.95,561.83 492.45,567.29 492.95,569.20 493.45,569.99 494.45,570.68 495.70,571.02 501.45,571.57 506.45,571.79 515.95,571.55 526.70,571.79 548.45,571.36 558.45,571.61 566.45,571.53 573.70,571.64 574.95,571.39 575.70,570.70 576.20,569.47 576.95,566.22 577.30,565.43 577.70,566.43 578.45,569.64 578.95,570.79 579.70,571.42 581.20,571.67 588.70,571.47 597.20,571.49 606.20,571.24 628.70,571.37 639.70,570.86 649.20,570.99 657.70,570.31 661.70,569.73 663.20,569.18 664.20,568.42 664.95,567.36 665.45,566.14 665.95,564.07 666.20,562.43 666.70,555.81 667.20,534.00 667.95,444.98 668.10,437.94 668.95,529.59 669.45,553.84 669.95,560.83 670.45,563.39 670.95,564.41 671.20,564.57 671.45,564.52 671.70,564.28 672.20,563.06 672.70,560.30 672.95,557.70 673.45,544.85 673.70,529.19 674.45,430.41 674.60,422.63 675.45,525.11 675.95,552.41 676.20,557.57 676.70,562.52 677.45,565.69 677.95,566.78 678.45,567.48 679.20,568.13 680.20,568.60 681.45,568.84 682.45,568.74 683.20,568.18 684.20,566.23 684.60,565.80 684.95,566.16 685.95,568.20 686.45,568.73 687.20,569.05 689.20,569.22 695.45,569.25 697.45,569.18 698.70,568.95 699.45,568.45 699.95,567.18 700.70,561.50 700.90,560.69 701.70,566.05 701.95,567.02 702.20,567.38 702.45,567.22 702.70,566.51 703.45,561.13 703.60,560.71 704.45,566.54 704.95,568.07 705.45,568.51 706.20,568.69 707.20,568.69 708.45,568.52 709.70,568.18 710.45,567.84 711.20,567.31 712.20,565.95 712.95,563.67 713.45,560.09 713.95,550.28 714.95,492.61 715.10,489.33 715.45,503.13 715.95,534.75 716.20,544.27 716.45,549.08 716.70,549.81 716.95,546.66 717.20,539.24 717.95,499.17 718.10,496.59 718.45,509.63 718.95,538.62 719.45,551.85 719.70,553.19 719.95,552.50 720.20,551.00 720.45,550.32 720.50,550.42 720.70,551.73 721.45,561.01 721.95,564.62 722.45,566.22 723.20,567.17 724.20,567.66 725.70,567.84 728.45,567.56 730.70,566.89 731.95,566.07 732.45,565.49 732.95,564.61 733.45,563.09 733.70,561.80 734.20,556.20 734.70,540.94 735.20,514.01 735.50,505.10 735.70,509.25 736.45,546.32 736.95,557.49 737.20,559.83 737.70,561.86 738.20,562.44 738.45,562.43 738.70,562.25 738.95,561.88 739.45,560.43 739.70,559.17 740.20,554.15 740.70,537.87 741.70,439.39 742.70,537.50 743.20,553.58 743.70,558.38 744.20,560.27 744.70,560.93 744.95,560.94 745.20,560.75 745.70,559.62 745.95,558.52 746.45,553.80 746.70,548.24 747.20,519.45 747.70,464.12 747.90,454.01 748.95,542.94 749.45,555.60 749.95,559.65 750.45,561.52 751.20,562.87 751.95,563.45 752.95,563.60 753.95,563.20 754.70,562.38 755.20,561.36 755.70,559.49 755.95,557.84 756.45,550.45 756.70,542.66 757.45,498.48 757.70,490.75 757.95,498.11 758.45,529.37 758.95,546.97 759.20,549.67 759.45,549.73 759.70,548.48 759.95,547.75 760.00,547.84 760.95,557.59 761.45,560.01 761.70,560.47 761.95,560.65 762.45,560.48 762.95,559.67 763.45,557.88 763.95,553.39 764.45,538.72 765.30,483.70 765.45,487.17 765.95,521.54 766.20,532.06 766.45,534.34 766.70,528.34 767.45,479.70 767.50,478.46 767.70,480.25 767.95,488.13 768.20,489.11 768.45,481.78 768.70,478.50 769.45,527.08 769.70,535.99 769.95,539.27 770.45,539.79 770.50,540.05 771.45,554.16 771.70,556.86 772.20,559.85 772.45,560.52 772.70,560.84 772.95,560.86 773.20,560.63 774.20,557.87 774.50,557.56 774.95,558.74 775.70,561.80 776.20,563.06 776.95,563.90 778.20,564.36 780.45,564.63 784.95,564.83 787.95,564.35 789.95,563.88 791.70,562.87 792.20,562.36 792.70,561.45 793.20,559.71 793.95,555.40 794.30,554.27 794.45,554.39 794.70,555.28 795.45,558.79 795.70,559.48 796.20,560.16 796.70,560.27 797.70,559.92 798.70,559.27 799.70,558.33 800.70,556.99 801.45,555.29 801.95,553.37 802.45,549.91 802.95,541.29 803.20,531.18 804.20,438.75 804.45,453.89 804.95,509.24 805.20,525.03 805.45,532.43 805.70,533.57 805.95,529.03 806.20,517.62 807.00,455.01 807.20,462.98 807.70,505.27 807.95,514.68 808.20,513.47 808.80,495.04 809.70,530.02 809.95,532.87 810.20,531.14 810.45,523.94 810.70,508.49 811.45,406.53 811.60,398.03 812.45,494.72 812.70,505.27 812.95,500.87 813.20,481.38 813.70,411.48 813.95,400.02 814.70,500.75 814.95,520.99 815.20,531.83 815.45,536.91 815.70,538.53 815.95,537.58 816.70,524.22 816.90,522.86 817.95,545.15 818.20,548.07 818.70,550.91 818.95,551.59 819.45,552.39 820.20,552.97 820.95,553.19 821.95,553.19 822.95,552.94 823.70,552.56 824.45,551.90 824.95,551.12 825.20,550.23 825.70,547.02 826.20,539.67 826.95,523.13 827.00,522.90 827.20,524.20 827.70,534.02 827.95,537.56 828.20,539.18 828.45,538.92 828.70,536.84 829.45,523.92 829.60,522.92 829.95,526.37 830.70,538.04 830.95,539.69 831.20,540.50 831.45,540.78 831.70,540.69 831.95,540.27 832.45,537.65 832.70,534.34 833.70,503.35 833.95,508.18 834.45,525.88 834.70,530.51 834.95,531.94 835.20,530.44 835.45,525.48 836.20,486.13 836.40,480.50 837.20,518.55 837.45,525.60 837.70,528.73 837.95,529.31 838.20,528.13 838.45,525.12 838.95,507.46 840.00,379.61 840.20,391.14 840.70,452.99 840.95,460.79 841.20,446.78 841.80,386.55 841.95,394.88 842.45,464.37 842.70,486.72 842.95,494.60 843.20,489.04 843.95,424.85 844.10,421.65 844.95,505.06 845.20,518.65 845.45,525.88 845.70,529.47 845.95,531.11 846.20,531.57 846.45,531.05 846.70,529.39 846.95,525.98 847.20,519.17 847.45,505.70 848.50,356.40 848.70,373.73 849.45,499.14 849.95,526.72 850.45,534.85 850.95,537.98 851.20,538.71 851.45,539.02 851.70,538.89 851.95,538.19 852.20,536.50 852.45,533.08 853.40,504.36 854.20,519.74 854.45,517.47 854.70,506.86 854.95,484.76 855.45,408.42 855.70,387.30 856.70,510.13 857.20,530.07 857.70,535.51 857.95,536.30 858.20,536.00 858.45,534.08 858.70,529.50 859.45,497.56 859.60,495.06 860.45,529.30 860.70,534.88 860.95,537.42 861.20,537.85 861.45,536.54 862.20,523.41 862.50,520.13 862.70,522.02 863.20,533.17 863.70,540.47 863.95,542.12 864.20,542.94 864.45,543.24 864.70,543.14 864.95,542.65 865.20,541.56 865.45,539.34 865.70,534.94 865.95,526.96 866.45,500.36 866.70,493.03 867.70,535.57 867.95,540.17 868.45,543.97 868.70,544.81 869.20,545.74 869.95,546.26 870.45,546.15 870.95,545.70 871.45,544.72 871.95,542.22 872.45,535.03 873.20,511.59 873.40,508.90 873.70,514.29 874.45,536.40 874.95,541.87 875.20,542.88 875.45,543.33 875.70,543.44 875.95,543.25 876.20,542.72 876.45,541.65 876.70,539.66 877.20,530.64 877.70,514.50 878.00,509.11 878.20,511.54 878.70,527.17 879.20,537.34 879.45,539.56 879.70,540.60 879.95,540.89 880.20,540.67 880.45,539.92 880.95,535.78 881.20,531.27 881.95,505.46 882.20,500.24 882.45,502.90 882.95,515.00 883.20,515.77 883.45,509.38 883.70,492.86 884.50,401.42 885.45,496.48 885.70,500.18 885.95,491.09 886.45,453.12 886.60,449.36 887.45,514.78 887.95,532.05 888.45,537.20 888.95,539.07 889.20,539.47 889.45,539.64 889.70,539.58 890.20,538.81 890.45,538.03 890.95,535.25 891.45,528.90 891.95,509.00 893.00,369.08 893.20,383.90 893.70,464.80 893.95,487.03 894.20,492.64 894.70,473.52 894.90,469.95 895.70,518.41 896.20,533.44 896.45,536.46 896.95,539.42 897.20,540.23 897.70,541.17 897.95,541.41 898.45,541.54 898.95,541.21 899.20,540.87 899.70,539.71 900.45,536.05 900.95,530.46 901.45,515.11 901.95,463.25 902.45,353.60 902.70,323.32 903.70,496.34 903.95,514.92 904.45,529.80 904.70,532.61 904.95,533.88 905.20,533.68 905.45,531.78 906.20,517.36 906.40,515.78 907.45,535.21 907.70,536.70 907.95,536.11 908.45,527.94 908.95,512.51 909.20,508.82 909.45,512.60 910.20,533.42 910.45,536.11 910.70,536.16 910.95,533.08 911.20,525.75 912.00,486.40 912.20,492.26 912.95,533.75 913.45,542.98 913.95,545.82 914.45,546.94 914.95,547.24 915.20,547.11 915.70,545.97 915.95,544.45 916.20,541.42 916.45,535.69 917.30,501.97 917.45,504.55 918.20,537.04 918.45,541.99 918.70,544.39 918.95,545.27 919.20,545.08 919.45,543.63 919.70,540.15 920.70,504.43 921.70,541.96 922.20,548.26 922.70,550.29 922.95,550.83 923.45,551.44 923.95,551.64 924.20,551.58 924.70,550.94 925.20,548.54 925.70,541.31 926.20,528.27 926.50,524.03 926.70,526.22 927.45,545.07 927.70,548.70 928.20,552.26 928.45,553.09 928.95,554.04 929.95,554.94 930.70,555.02 931.20,554.88 931.70,554.50 932.20,553.64 932.70,551.33 932.95,548.79 933.95,524.66 934.10,523.36 934.45,529.52 934.95,543.62 935.20,548.19 935.70,552.69 935.95,553.66 936.45,554.63 937.20,555.23 937.95,555.40 938.95,555.26 939.70,554.86 940.45,554.08 940.95,553.12 941.45,551.39 941.70,549.87 942.20,542.53 942.45,533.86 943.30,483.69 943.45,487.35 943.95,521.94 944.45,541.70 944.70,545.32 944.95,546.95 945.20,547.52 945.45,547.46 945.95,545.74 946.45,541.01 946.70,536.13 947.20,510.16 948.20,352.19 949.20,509.98 949.70,535.81 950.20,543.41 950.45,545.11 950.70,546.07 950.95,546.43 951.20,546.16 951.45,545.04 951.70,542.41 951.95,536.93 953.00,474.57 953.20,481.59 953.70,520.02 954.20,539.06 954.45,541.96 954.70,542.59 954.95,541.62 955.20,538.78 955.45,532.66 955.95,498.13 956.45,423.91 956.70,403.42 956.95,424.10 957.45,498.72 957.70,521.22 957.95,533.76 958.20,540.22 958.45,543.50 958.70,545.09 958.95,545.45 959.20,544.35 959.45,541.04 960.40,508.84 960.95,520.65 961.20,521.91 961.70,511.95 961.80,511.83 962.45,536.42 962.95,548.82 963.45,552.86 963.95,554.35 964.45,555.00 964.95,555.15 965.45,554.66 965.95,552.53 966.45,546.27 966.95,535.84 967.20,533.35 967.45,535.78 968.20,549.64 968.45,551.72 968.70,552.45 968.95,551.94 969.20,550.10 969.95,537.23 970.20,535.04 970.45,537.57 971.20,551.68 971.70,555.69 971.95,556.58 972.45,557.50 972.95,557.96 973.70,558.28 974.45,558.33 975.20,558.09 975.70,557.67 976.20,556.80 976.70,554.66 977.20,547.41 977.95,517.67 978.10,515.32 978.95,546.02 979.45,554.12 979.70,555.61 980.20,556.91 980.70,557.35 981.20,557.36 981.70,556.98 982.20,556.13 982.70,554.50 982.95,553.14 983.45,547.73 983.95,529.89 984.70,448.68 984.90,437.51 985.70,518.77 986.20,544.16 986.70,551.51 987.20,554.12 987.70,555.15 987.95,555.30 988.20,555.24 988.70,554.48 988.95,553.67 989.45,550.57 989.70,547.43 990.20,530.85 991.20,430.17 992.20,529.73 992.45,540.09 992.70,545.08 992.95,546.95 993.20,546.48 993.45,543.37 994.30,519.82 994.45,521.70 994.95,538.44 995.20,543.44 995.45,544.28 995.70,540.79 996.50,514.79 996.70,518.13 997.20,535.16 997.45,537.35 997.70,533.17 998.20,511.67 998.40,507.61 999.20,539.37 999.45,543.70 999.70,543.10 1000.20,532.87 1000.40,531.08 1001.20,550.95 1001.45,554.94 1001.95,558.53 1002.20,559.33 1002.70,560.28 1003.45,561.07 1004.20,561.51 1005.20,561.86 1006.45,562.06 1007.70,562.05 1008.70,561.84 1009.45,561.28 1009.95,560.10 1010.70,555.71 1011.00,554.56 1011.20,554.93 1011.95,558.63 1012.20,559.14 1012.45,559.23 1012.70,559.00 1012.95,558.47 1013.45,556.20 1013.70,553.79 1014.20,540.87 1014.95,487.90 1015.10,483.69 1015.95,537.84 1016.45,551.69 1016.70,553.75 1016.95,554.14 1017.20,552.92 1018.20,534.20 1019.20,554.56 1019.45,556.51 1019.70,557.30 1019.95,557.39 1020.20,556.97 1020.70,554.12 1021.20,543.45 1022.20,477.22 1022.45,488.83 1022.95,530.78 1023.20,543.33 1023.45,550.14 1023.70,553.22 1023.95,553.92 1024.20,552.74 1024.70,546.70 1024.90,545.70 1025.95,558.95 1026.20,560.13 1026.45,560.71 1026.70,560.95 1026.95,560.95 1027.20,560.73 1027.45,560.18 1027.70,559.02 1027.95,556.67 1028.20,552.29 1029.00,530.36 1029.20,533.44 1029.95,555.72 1030.20,558.93 1030.70,561.61 1031.20,562.60 1031.95,563.28 1032.95,563.67 1033.95,563.80 1035.20,563.74 1036.45,563.37 1037.20,562.88 1037.95,561.93 1038.70,559.99 1039.20,557.37 1039.70,551.57 1039.95,545.12 1040.45,511.44 1040.95,440.31 1041.20,420.67 1041.45,440.33 1041.95,511.52 1042.45,545.26 1042.70,551.73 1043.20,557.58 1043.70,560.22 1043.95,561.03 1044.45,562.02 1044.70,562.22 1044.95,562.23 1045.45,561.85 1045.70,561.83 1046.70,563.89 1047.20,564.44 1047.70,564.72 1049.70,565.23 1051.95,565.40 1052.70,565.22 1053.20,564.67 1054.30,561.46 1054.45,561.65 1055.45,564.98 1055.70,565.34 1056.20,565.70 1057.45,566.00 1059.95,566.18 1065.95,565.96 1067.20,565.74 1067.70,565.48 1067.95,565.19 1068.45,563.69 1068.95,560.51 1069.20,559.63 1069.45,560.51 1069.95,563.70 1070.45,565.20 1070.95,565.64 1071.70,565.83 1072.70,565.82 1073.45,565.64 1073.95,565.33 1074.45,564.60 1074.95,562.18 1075.70,551.17 1075.90,549.65 1076.70,560.64 1077.20,564.06 1077.70,565.03 1078.45,565.41 1079.45,565.36 1080.45,564.80 1080.95,564.17 1081.45,562.89 1081.95,559.25 1082.45,547.54 1082.95,527.50 1083.10,525.32 1083.95,553.39 1084.20,558.20 1084.45,560.78 1084.95,562.85 1085.20,563.27 1085.70,563.64 1086.20,563.61 1086.70,563.20 1087.20,562.27 1087.45,561.45 1087.95,557.89 1088.45,546.57 1089.20,513.15 1089.45,513.49 1089.70,515.89 1090.20,510.08 1090.45,515.17 1091.20,550.75 1091.70,559.30 1092.20,561.99 1092.70,563.06 1092.95,563.32 1093.45,563.42 1093.95,562.84 1094.20,562.05 1094.45,560.49 1094.95,551.89 1095.45,533.45 1095.70,528.37 1096.70,557.90 1096.95,561.10 1097.45,563.78 1097.95,564.79 1098.70,565.49 1099.70,565.85 1100.95,565.93 1102.20,565.74 1103.45,565.22 1104.20,564.60 1104.95,563.46 1105.70,561.10 1106.20,557.75 1106.70,549.17 1106.95,538.89 1108.00,428.29 1108.20,440.90 1108.95,532.71 1109.45,552.93 1109.70,556.79 1110.20,560.72 1110.95,563.40 1111.70,564.68 1112.20,565.19 1112.95,565.70 1114.45,566.23 1117.45,566.60 1123.70,566.80 1129.20,566.88 1134.95,566.75"/>
<path d="M108.20,809.52 116.45,809.31 117.70,808.90 119.20,807.73 119.60,807.61 120.20,807.87 121.70,809.02 123.20,809.38 125.95,809.43 126.45,809.14 127.20,808.12 127.45,808.03 128.70,809.60 129.45,809.78 130.45,809.76 131.45,809.50 133.95,808.30 135.20,808.05 135.95,808.24 137.70,809.24 138.70,809.53 141.45,809.72 142.95,809.55 143.95,808.89 145.20,807.21 145.70,806.74 146.20,806.64 147.70,807.43 147.95,807.36 148.20,807.08 148.70,805.45 148.95,803.77 149.70,795.28 150.00,793.51 150.20,794.36 151.20,805.04 151.70,807.27 152.20,808.15 152.70,808.53 153.70,808.80 154.70,808.64 155.20,808.35 155.70,807.74 156.20,806.20 156.45,804.69 157.45,791.91 157.70,790.35 157.95,791.89 158.95,804.58 159.20,806.07 159.70,807.57 160.45,808.34 160.95,808.55 161.70,808.63 162.20,808.54 162.70,808.27 163.20,807.56 163.70,805.64 163.95,803.79 164.70,794.58 165.00,792.68 165.20,793.60 166.20,805.16 166.70,807.56 167.20,808.50 167.70,808.91 168.45,809.21 169.70,809.38 171.95,809.26 172.45,809.10 172.95,808.71 173.45,807.82 174.20,805.32 174.60,804.55 174.95,805.17 175.70,807.72 175.95,808.27 176.45,808.88 177.20,809.06 179.45,809.02 179.95,808.88 180.45,808.37 180.95,806.96 181.95,800.63 182.10,800.34 182.45,801.71 183.20,806.64 183.70,808.13 184.20,808.61 184.70,808.56 185.20,807.87 186.20,803.77 186.45,803.23 186.70,803.49 187.45,805.40 188.70,807.60 189.45,808.49 190.20,809.06 191.45,809.49 193.20,809.57 195.45,809.46 196.70,809.11 197.45,808.45 197.95,807.11 198.45,803.55 198.95,797.74 199.20,796.30 199.45,797.51 200.20,804.84 200.70,806.73 200.95,807.08 201.45,807.31 201.95,807.11 202.20,806.69 202.70,804.42 203.20,800.08 203.50,798.72 203.70,799.56 204.45,806.35 204.95,808.47 205.45,809.26 205.95,809.62 206.95,809.96 208.45,810.14 209.45,810.13 210.20,809.94 211.45,808.87 211.95,808.69 212.95,809.09 213.95,809.17 214.95,809.93 215.95,810.18 218.70,810.22 223.70,809.74 226.70,809.76 227.20,809.50 227.95,808.56 228.20,808.45 228.95,809.16 229.45,809.34 230.45,808.59 230.95,808.46 232.20,809.85 232.70,810.06 235.20,809.96 237.20,809.42 238.70,809.82 239.45,809.79 240.20,809.36 240.70,808.43 241.20,806.17 241.70,802.41 241.95,800.87 242.10,800.57 242.45,802.00 242.95,805.77 243.45,808.15 243.70,808.76 244.20,809.32 244.70,809.45 245.20,809.37 245.95,808.74 246.70,807.49 246.95,807.30 247.70,807.53 247.95,807.40 248.20,806.93 248.70,804.55 249.20,800.30 249.45,798.56 249.60,798.24 249.95,800.00 250.45,804.39 250.95,806.83 251.20,807.30 251.95,808.01 252.95,809.45 253.45,809.75 254.20,809.87 256.45,809.73 256.95,809.57 257.45,809.23 257.95,808.34 258.20,807.51 258.95,803.69 259.20,803.14 259.45,803.71 260.20,807.58 260.45,808.42 260.95,809.33 261.70,809.79 262.70,809.97 263.95,809.90 264.70,809.61 265.20,808.99 265.45,808.38 266.45,803.15 266.70,802.51 266.95,803.16 267.70,807.50 268.20,809.07 268.45,809.47 268.95,809.88 269.70,810.14 270.95,810.31 275.70,810.28 276.45,810.18 277.95,809.73 279.70,810.17 280.45,810.17 281.20,809.99 281.95,809.43 282.45,808.61 283.45,805.22 283.80,804.46 283.95,804.54 285.70,808.61 286.20,809.23 286.45,809.25 286.70,809.06 286.95,808.64 287.95,805.34 288.10,805.19 288.45,805.94 288.95,807.90 289.45,809.16 289.95,809.72 290.95,810.06 292.45,809.92 294.70,809.12 295.20,809.21 296.70,810.31 297.45,810.49 300.70,810.48 306.20,810.95 311.70,810.63 315.20,810.70 315.95,810.52 316.70,809.95 317.20,809.75 318.45,810.51 318.95,810.62 319.70,810.47 320.70,809.41 320.95,809.21 321.20,809.20 322.20,810.11 322.70,810.29 329.95,810.57 330.70,810.38 331.45,809.78 332.45,808.45 333.45,806.66 333.70,806.56 333.95,806.86 334.95,809.33 335.45,810.05 335.95,810.43 336.70,810.68 337.95,810.87 340.95,810.92 342.45,810.65 343.20,810.14 343.70,809.38 344.70,807.00 344.90,806.84 345.20,807.12 345.95,808.90 346.45,809.72 347.20,810.19 347.70,810.20 348.20,810.00 348.70,809.37 348.95,808.77 349.70,806.19 349.90,805.93 350.20,806.46 350.95,809.01 351.45,809.85 351.95,810.17 352.45,810.29 354.70,810.31 355.70,810.17 356.45,809.91 356.95,809.50 357.45,808.67 357.95,807.09 358.95,801.87 359.30,801.06 359.45,801.22 359.70,802.11 360.45,806.24 360.95,808.21 361.45,809.33 361.95,809.88 362.45,810.16 363.45,810.41 364.45,810.49 365.20,810.35 365.95,809.70 367.45,806.88 367.70,806.82 368.95,810.14 369.45,810.65 370.45,810.92 371.45,810.83 372.70,810.42 374.45,810.12 375.20,809.82 375.95,809.12 376.70,807.38 376.95,806.88 377.10,806.82 377.45,807.51 378.20,809.73 378.70,810.45 379.20,810.78 379.95,811.01 382.20,811.27 383.20,811.26 383.70,811.11 384.95,810.03 385.20,810.07 386.20,810.93 386.70,811.00 387.20,810.66 387.95,809.72 388.20,809.68 389.20,810.90 389.95,811.26 391.20,811.36 391.95,811.29 393.45,810.40 393.95,810.27 395.45,811.06 396.45,811.17 397.45,810.85 398.95,809.85 399.70,809.62 400.20,809.76 401.95,810.88 403.20,811.18 405.45,811.28 410.70,811.17 416.70,811.54 445.70,811.42 452.20,811.06 457.95,811.29 463.95,810.93 469.70,811.07 480.70,809.99 485.20,809.16 492.45,809.14 498.20,808.53 505.95,808.08 506.45,807.81 506.95,806.98 507.70,804.38 508.00,803.87 508.20,804.18 509.20,807.85 509.70,808.69 510.20,809.09 511.45,809.63 512.45,809.84 515.45,809.89 518.20,809.64 519.45,809.31 520.20,808.92 520.95,808.23 521.45,807.43 521.95,806.05 522.20,804.93 522.70,800.28 523.20,785.94 523.95,736.77 524.10,733.25 524.95,783.38 525.45,799.23 525.95,804.35 526.45,806.34 526.95,807.38 527.45,808.00 528.20,808.54 529.45,809.01 531.45,809.38 533.70,809.56 538.95,809.48 542.70,809.63 543.95,809.49 544.45,809.24 544.95,808.54 545.45,806.87 545.95,804.24 546.30,803.22 546.45,803.42 547.45,807.91 547.95,808.90 548.70,809.32 549.70,809.39 551.45,809.19 552.45,808.83 553.20,808.03 553.70,806.43 554.20,802.80 554.70,797.48 555.00,795.83 555.20,796.42 555.95,802.51 556.20,803.24 556.45,802.93 557.20,798.14 557.40,797.68 557.45,797.75 558.70,806.80 559.20,808.14 559.95,808.77 560.95,808.93 561.95,808.80 562.70,808.41 563.20,807.73 563.70,806.15 564.70,800.15 564.90,799.74 565.20,800.64 566.20,806.64 566.70,807.99 567.20,808.54 567.70,808.71 568.45,808.63 568.95,808.28 569.45,807.33 569.95,804.88 570.70,797.55 571.00,796.02 571.20,796.72 572.20,805.75 572.70,807.61 572.95,808.06 573.45,808.52 574.20,808.84 575.20,809.06 578.95,809.36 580.95,809.18 581.70,808.92 582.20,808.56 582.70,807.67 582.95,806.72 583.95,797.85 584.10,797.37 584.45,799.59 584.95,804.69 585.45,807.36 585.95,808.28 586.45,808.59 587.45,808.69 588.45,808.34 589.20,807.53 589.70,806.30 590.20,802.99 590.70,792.84 591.20,772.58 591.50,765.39 591.70,768.87 592.20,789.44 592.70,801.73 592.95,804.40 593.45,806.78 594.20,808.07 594.70,808.46 595.45,808.75 596.20,808.80 596.95,808.59 597.45,808.07 597.70,807.48 598.20,804.86 598.70,800.18 599.00,798.65 599.20,799.39 599.70,804.04 600.20,807.16 600.45,807.90 600.95,808.58 601.45,808.83 602.20,808.97 603.45,808.88 604.20,808.38 604.70,807.18 605.45,803.59 605.60,803.36 605.95,804.50 606.45,807.08 606.95,808.46 607.45,808.97 607.95,809.18 610.20,809.49 615.20,809.47 619.95,809.71 621.70,809.68 622.45,809.52 622.95,809.25 624.45,807.83 624.95,807.83 626.20,808.59 626.45,808.54 627.45,807.66 627.70,807.59 627.95,807.70 628.95,808.78 629.70,809.02 630.45,808.63 631.20,807.63 631.60,807.32 631.95,807.58 632.70,808.57 633.20,808.82 633.70,808.74 634.95,808.15 635.45,808.17 636.45,808.52 636.95,808.30 637.20,807.95 638.20,805.63 638.45,805.34 638.70,805.35 638.95,805.66 639.95,807.87 640.45,808.46 640.95,808.62 641.95,808.32 642.20,808.38 643.20,809.33 643.95,809.59 645.70,809.57 651.95,809.02 654.95,808.10 656.70,808.31 657.20,808.12 657.95,807.33 658.30,807.13 658.70,807.41 659.45,808.27 660.20,808.64 661.45,808.74 663.70,808.68 664.70,808.44 665.45,807.78 665.95,806.85 666.95,804.00 667.20,803.53 667.40,803.42 667.70,803.76 668.70,806.66 669.20,807.70 669.95,808.47 670.70,808.71 671.45,808.47 672.20,807.52 672.45,807.29 672.70,807.25 673.95,808.47 674.45,808.37 675.20,807.86 675.70,807.81 676.95,808.66 677.95,808.93 680.95,808.81 682.95,808.08 683.45,808.18 684.95,808.82 687.20,808.87 688.45,808.68 690.20,808.08 690.95,807.97 691.70,808.11 693.45,808.74 694.45,808.92 696.45,809.02 698.45,808.95 700.20,808.78 701.20,808.53 702.95,807.35 703.45,807.18 703.95,807.28 705.20,808.03 705.70,808.04 706.45,807.73 706.95,807.68 708.45,808.51 709.45,808.59 713.45,808.12 713.95,808.01 714.45,807.73 715.95,805.25 716.95,802.22 717.10,802.11 717.45,803.13 717.95,805.58 718.45,807.13 718.95,807.76 719.70,807.95 720.45,807.73 720.95,807.37 721.70,806.29 722.20,804.69 723.20,798.81 723.45,798.45 723.70,799.07 724.95,804.73 725.45,806.30 726.20,807.47 726.70,807.71 727.20,807.75 727.95,807.60 728.45,807.33 728.95,806.69 729.20,806.09 729.70,803.95 730.45,798.97 730.70,798.27 730.95,798.81 731.95,804.08 732.20,804.54 732.45,804.55 732.95,803.20 733.95,796.30 734.20,795.54 734.45,796.17 735.45,803.13 735.95,805.20 736.70,806.74 737.20,807.23 737.95,807.52 738.95,807.44 739.45,807.07 739.70,806.68 740.20,805.10 740.70,802.46 740.95,801.38 741.10,801.18 741.45,802.23 742.20,806.00 742.70,807.18 743.20,807.63 744.20,807.87 745.45,807.76 746.20,807.35 746.95,806.21 747.70,803.90 748.20,801.06 748.70,796.89 749.00,795.62 749.20,796.35 749.95,802.39 750.20,803.59 750.70,804.87 751.70,805.92 753.95,806.98 754.45,806.88 755.20,806.24 755.45,806.25 756.45,807.51 756.95,807.78 758.20,807.81 759.45,807.66 760.20,807.36 760.95,806.70 761.45,805.73 761.70,804.91 762.45,800.95 762.80,799.95 763.20,801.53 763.70,804.62 764.20,806.54 764.70,807.38 765.45,807.81 766.20,807.92 766.95,807.87 767.45,807.71 767.95,807.24 768.45,805.98 769.20,802.18 769.50,801.40 769.70,801.79 770.70,806.63 771.20,807.64 771.95,808.14 772.95,808.25 773.70,808.07 776.70,806.37 777.20,806.51 778.20,807.58 778.70,807.87 779.70,807.91 780.70,807.59 781.20,807.00 781.45,806.43 782.45,802.20 782.70,801.79 782.95,802.12 783.95,804.43 785.70,806.98 786.70,807.84 787.70,808.09 790.70,808.20 794.20,808.57 795.95,808.47 796.70,808.16 797.45,807.53 798.20,806.14 798.70,804.21 799.70,798.40 799.90,798.10 800.20,799.06 801.20,805.33 801.70,806.93 801.95,807.37 802.45,807.84 803.70,808.14 804.45,808.10 804.95,807.88 805.45,807.25 806.45,804.32 806.60,804.18 806.95,804.84 807.70,807.16 807.95,807.60 808.45,808.02 809.20,808.17 810.45,808.10 814.70,807.28 816.20,806.64 816.95,806.07 817.45,805.50 818.20,804.18 818.95,801.82 819.45,799.09 819.95,794.29 820.45,783.67 820.95,755.18 821.95,611.22 822.10,604.14 822.45,637.95 823.20,750.44 823.70,781.74 824.20,793.37 824.45,796.34 824.95,800.07 825.45,802.30 825.95,803.75 826.70,805.07 827.45,805.76 827.95,805.93 828.45,805.81 828.95,805.04 829.20,804.04 829.70,799.40 830.20,791.01 830.50,788.28 830.70,789.67 831.20,798.25 831.70,804.01 832.20,806.23 832.70,807.04 833.70,807.63 834.95,807.73 835.45,807.61 835.95,807.32 836.45,806.48 836.95,803.98 837.70,795.74 837.90,794.82 838.20,796.80 838.95,804.86 839.20,806.19 839.70,807.43 840.45,808.05 841.45,808.33 842.95,808.30 843.70,807.91 844.20,807.02 845.20,802.63 845.40,802.30 845.70,803.06 846.45,806.68 846.95,807.91 847.45,808.42 847.95,808.65 849.70,808.93 855.95,808.97 857.45,808.85 858.20,808.49 859.45,806.75 859.70,806.61 859.95,806.76 860.95,808.33 861.45,808.78 861.95,809.00 870.95,809.50 872.95,809.49 877.70,809.13 882.70,809.37 884.45,809.31 885.45,809.03 886.90,807.83 887.20,807.95 888.20,808.82 888.95,809.09 889.95,809.19 890.70,809.12 892.20,808.42 892.70,808.33 893.20,808.49 894.70,809.54 895.45,809.76 896.20,809.81 898.95,809.56 900.95,808.74 902.20,808.42 903.45,807.91 903.95,808.09 905.45,809.46 906.20,809.65 907.20,809.65 913.20,809.16 913.95,808.80 915.20,807.52 915.45,807.42 916.70,808.07 918.20,808.30 919.70,809.21 920.45,809.46 921.45,809.53 922.45,809.42 924.20,808.64 924.70,808.56 925.20,808.67 926.70,809.37 928.45,809.50 930.20,809.37 932.45,808.78 933.20,808.82 934.70,809.18 935.70,809.08 936.45,808.60 937.70,806.78 938.10,806.50 938.45,806.71 939.70,808.52 940.70,809.16 942.20,809.42 947.20,809.89 949.20,809.86 953.95,809.50 959.45,809.56 963.70,809.17 964.45,808.89 965.70,807.27 965.95,807.11 966.45,807.26 967.45,808.17 968.95,809.26 969.70,809.55 970.95,809.70 971.95,809.57 973.20,808.41 973.45,808.41 974.70,809.36 975.20,809.34 976.70,808.91 978.45,809.09 978.95,808.91 979.95,808.26 980.45,808.36 981.20,809.01 981.70,809.16 982.95,807.97 983.20,807.98 984.20,808.56 985.95,809.14 987.70,809.40 993.20,809.57 995.45,809.50 996.45,809.28 998.20,808.32 998.70,808.21 999.45,808.40 1000.95,809.19 1002.45,809.46 1023.70,809.81 1029.45,809.44 1034.70,809.58 1036.20,809.48 1036.95,809.19 1037.45,808.81 1038.20,807.89 1039.20,806.32 1039.70,805.82 1039.95,805.76 1040.45,806.10 1041.70,808.21 1042.45,808.86 1042.95,808.90 1044.20,808.71 1045.95,808.87 1048.45,809.55 1052.95,809.26 1058.20,809.24 1059.20,808.95 1060.70,807.98 1061.45,807.77 1063.20,808.35 1064.45,807.91 1064.95,807.86 1066.70,808.94 1068.70,809.29 1071.45,809.42 1078.70,809.33 1079.95,809.18 1080.95,808.82 1081.45,808.38 1081.95,807.28 1082.45,804.22 1082.95,798.43 1083.30,795.90 1083.45,796.42 1084.20,804.52 1084.45,806.21 1084.95,807.83 1085.20,808.16 1085.70,808.50 1086.70,808.72 1088.20,808.58 1088.70,808.39 1089.20,808.00 1089.70,806.99 1089.95,805.89 1090.95,795.55 1091.10,794.99 1091.45,797.62 1091.95,803.66 1092.45,806.85 1092.95,807.99 1093.45,808.44 1094.20,808.76 1096.70,809.18 1100.70,809.49 1105.45,809.53 1110.95,809.80 1116.45,809.54 1119.95,809.59 1120.70,809.50 1121.20,809.23 1122.20,807.80 1122.40,807.69 1122.70,807.94 1123.45,809.10 1124.20,809.55 1125.20,809.62 1129.95,809.40 1130.95,809.23 1131.45,808.85 1132.45,806.75 1132.70,806.50 1132.95,806.78 1133.95,808.99 1134.45,809.40 1135.20,809.59"/>
<path d="M108.60,1030.33 111.35,1030.25 117.85,1030.45 125.10,1030.34 130.85,1030.07 137.10,1030.45 143.10,1030.14 149.35,1030.31 157.10,1029.93 157.85,1029.73 158.85,1029.02 159.30,1028.86 159.60,1028.96 160.60,1029.76 161.35,1030.08 166.85,1030.40 169.60,1030.35 175.10,1029.86 176.85,1029.94 181.10,1030.42 183.85,1030.39 187.85,1029.97 188.35,1029.76 189.35,1029.01 189.70,1028.91 190.10,1029.06 191.35,1029.97 193.10,1030.23 201.60,1030.38 208.10,1030.07 214.85,1030.52 224.35,1030.29 226.10,1030.14 226.85,1029.87 227.10,1029.50 227.35,1028.69 227.85,1026.00 228.00,1025.69 228.85,1029.28 229.10,1029.69 229.35,1029.85 236.60,1030.51 249.85,1030.07 256.85,1030.34 263.35,1029.98 269.35,1030.35 276.10,1029.95 289.10,1030.26 295.85,1030.03 301.10,1030.25 307.10,1029.90 312.85,1030.39 315.35,1030.42 320.10,1030.04 320.60,1029.69 321.35,1027.91 321.60,1027.58 321.85,1027.89 322.60,1029.62 323.10,1029.93 323.85,1029.99 328.60,1029.87 329.35,1029.60 330.60,1028.65 331.00,1028.53 331.35,1028.66 332.35,1029.49 332.85,1029.66 333.35,1029.54 334.35,1028.81 334.85,1028.72 336.35,1029.83 337.35,1030.11 340.85,1030.08 346.10,1030.30 352.35,1030.06 353.10,1029.93 353.60,1029.61 354.60,1028.03 355.00,1027.68 355.35,1027.97 356.10,1029.29 356.60,1029.83 357.10,1030.04 357.85,1030.11 362.10,1030.06 368.10,1030.33 380.60,1029.86 384.35,1029.89 384.85,1029.78 385.35,1029.41 386.35,1027.89 386.60,1027.77 386.85,1027.94 388.10,1029.93 388.60,1030.21 389.35,1030.32 396.10,1029.76 402.85,1030.07 409.35,1030.08 415.10,1029.91 420.85,1030.14 422.60,1030.01 424.35,1029.63 425.10,1029.33 425.85,1028.81 426.60,1027.57 426.85,1026.66 427.10,1024.75 427.35,1019.00 427.60,1002.09 428.20,928.24 428.85,1006.85 429.10,1020.79 429.35,1025.36 429.60,1026.96 429.85,1027.78 430.35,1028.69 430.85,1029.18 431.60,1029.59 433.10,1029.97 434.85,1030.12 453.60,1030.14 458.85,1030.01 465.35,1030.45 472.60,1029.92 486.60,1030.25 493.60,1029.93 498.60,1030.03 503.85,1029.94 508.85,1030.08 512.60,1029.78 513.10,1029.47 513.90,1028.59 515.10,1029.69 519.60,1030.15 521.85,1030.16 528.10,1029.69 536.85,1030.05 538.85,1029.97 539.60,1029.75 540.10,1029.33 540.35,1028.75 540.60,1027.44 541.70,1010.49 541.85,1011.42 542.60,1025.30 542.85,1027.61 543.10,1028.69 543.35,1029.15 543.85,1029.46 544.35,1029.56 548.35,1029.60 553.35,1030.14 555.35,1030.13 557.60,1029.87 558.60,1029.61 559.35,1029.13 559.60,1028.70 559.85,1027.68 560.10,1025.27 560.35,1020.56 560.85,1007.35 561.00,1005.99 561.85,1024.56 562.10,1027.37 562.35,1028.60 562.60,1029.11 563.10,1029.52 563.85,1029.78 566.60,1030.02 573.85,1030.08 579.60,1029.91 583.85,1030.10 584.60,1029.89 585.60,1029.07 586.60,1029.88 587.10,1030.07 587.60,1030.08 595.60,1029.25 600.35,1028.51 602.35,1028.35 604.35,1028.48 609.10,1029.33 612.35,1029.67 616.10,1029.78 617.35,1029.65 618.10,1029.43 618.85,1028.84 619.10,1028.24 619.35,1026.85 619.60,1023.82 620.40,1007.16 620.60,1009.02 621.10,1018.64 621.35,1018.93 621.85,1011.63 622.00,1010.82 622.85,1025.17 623.10,1027.32 623.35,1028.27 623.85,1028.88 625.35,1029.34 629.35,1029.75 640.60,1029.73 641.10,1029.58 641.35,1029.32 642.30,1026.00 643.10,1028.88 643.35,1029.28 643.85,1029.46 647.10,1029.36 651.60,1029.54 654.10,1029.49 658.10,1029.08 660.35,1028.49 661.35,1027.79 662.10,1026.53 662.60,1024.07 662.85,1020.09 663.10,1010.06 663.90,940.20 664.10,949.96 664.60,1000.12 664.85,1010.81 665.10,1008.79 666.00,930.06 666.85,1010.87 667.10,1020.24 667.35,1023.86 667.60,1025.37 668.10,1026.75 668.60,1027.45 669.60,1028.13 670.85,1028.45 672.10,1028.41 673.10,1027.98 673.60,1027.42 673.85,1026.92 674.10,1025.95 674.35,1023.55 674.60,1017.49 675.40,975.06 676.10,1006.87 676.35,1010.80 676.60,1011.91 677.35,1023.53 677.60,1025.34 677.85,1026.02 678.10,1026.20 678.35,1026.15 678.85,1025.57 679.10,1024.80 679.35,1022.90 679.60,1018.20 680.35,985.80 680.40,985.31 680.60,988.95 680.85,998.97 681.10,1003.25 681.35,994.23 682.00,941.07 682.60,980.65 682.85,981.00 683.40,951.55 684.10,1005.05 684.35,1016.40 684.60,1020.87 684.85,1021.78 685.10,1019.96 685.35,1013.72 686.10,976.12 686.85,1013.03 687.10,1017.71 687.35,1014.83 688.20,967.84 689.10,1018.98 689.35,1023.76 689.60,1025.59 689.85,1026.38 690.10,1026.75 690.60,1026.93 691.10,1026.85 692.10,1026.33 693.10,1025.55 693.85,1024.77 694.60,1023.70 695.35,1021.90 695.85,1018.86 696.10,1014.16 696.35,1002.94 697.10,940.16 697.85,995.17 698.10,997.29 698.35,982.18 698.85,920.13 699.00,913.02 699.60,978.98 699.85,1000.81 700.10,1010.82 700.35,1014.52 700.60,1015.88 700.85,1016.47 701.35,1016.85 701.60,1016.72 701.85,1016.17 702.10,1014.60 702.35,1011.02 703.00,997.40 703.83,1009.68 704.10,1010.70 704.35,1009.35 704.61,1003.22 704.85,988.43 705.60,901.60 706.35,981.81 706.60,989.83 706.85,978.69 707.60,885.57 708.35,965.94 708.60,961.36 709.20,906.76 709.85,977.57 710.10,996.17 710.35,1003.55 710.60,1004.10 710.85,999.44 711.35,980.63 711.50,978.50 712.35,1004.82 712.60,1006.09 712.85,1003.04 713.35,989.61 713.50,988.00 714.35,1005.78 714.60,1007.22 714.85,1006.83 715.10,1004.64 715.35,998.47 715.60,983.78 716.11,926.54 716.30,916.12 716.85,962.64 717.10,974.83 717.35,964.66 717.85,901.76 718.00,894.34 718.85,986.63 719.10,996.22 719.35,997.97 719.60,993.72 719.85,979.07 720.70,846.71 721.60,981.65 721.85,988.44 722.35,974.69 722.50,973.11 723.10,996.27 723.35,1003.21 723.60,1004.82 723.85,1001.53 724.35,986.35 724.50,984.61 725.10,999.08 725.35,999.95 726.00,985.57 726.60,1000.19 726.85,1002.45 727.85,991.22 728.10,993.54 728.60,1004.32 728.85,1002.21 729.60,971.46 730.10,987.78 730.35,989.76 730.60,974.56 731.10,897.95 731.30,882.62 732.10,986.12 732.40,999.05 732.60,996.56 732.85,981.25 733.35,924.03 733.50,917.18 734.35,982.75 735.10,997.48 735.35,995.86 735.60,990.27 735.80,988.30 735.85,988.73 736.60,1011.32 736.85,1013.59 737.10,1013.05 738.09,1005.06 739.10,988.17 739.90,940.35 740.60,995.23 740.85,1004.98 741.10,1003.46 742.00,934.96 742.17,942.11 742.60,984.22 742.85,996.37 742.96,997.30 743.50,987.10 743.60,987.29 743.85,990.80 744.10,991.99 744.35,989.78 744.50,989.88 745.10,1007.97 745.35,1011.01 745.89,1006.30 746.35,1009.24 746.60,1005.03 747.30,971.34 748.14,1007.45 748.35,1005.35 749.10,966.97 749.85,1007.31 750.10,1011.88 750.35,1010.50 750.85,1003.51 751.10,1002.32 751.60,1011.87 751.85,1014.28 752.43,1009.15 752.85,1012.58 753.10,1011.12 753.35,1000.10 754.10,928.17 754.85,998.17 755.10,1007.27 755.44,1009.36 755.85,1015.42 756.10,1017.32 756.60,1013.79 756.85,1014.89 757.10,1017.31 757.35,1017.24 757.78,1014.09 758.60,1024.40 758.85,1025.42 759.10,1025.82 759.60,1026.16 760.35,1026.34 761.10,1026.17 761.35,1025.92 761.60,1025.34 761.85,1024.07 762.50,1016.02 763.10,1002.05 763.30,999.88 763.85,1013.46 764.10,1017.61 764.35,1017.87 764.69,1013.12 765.40,989.04 766.10,1011.26 766.35,1011.23 766.90,1000.57 767.60,1018.80 767.85,1022.59 768.10,1023.97 768.35,1024.14 768.60,1023.60 768.85,1021.92 769.10,1017.04 769.35,1004.59 770.10,933.69 770.85,1005.18 771.10,1017.86 771.35,1022.99 771.60,1024.99 772.10,1026.57 772.60,1027.34 773.10,1027.80 774.35,1028.42 775.60,1028.69 782.85,1029.32 785.10,1029.37 786.35,1029.28 786.85,1029.08 787.35,1028.52 788.35,1025.77 788.60,1025.19 788.80,1025.02 789.10,1025.36 789.85,1027.61 790.35,1028.71 790.85,1029.22 791.85,1029.49 793.85,1029.46 795.10,1029.22 795.60,1028.83 796.60,1027.11 796.80,1026.98 797.10,1027.18 797.85,1028.36 798.35,1028.69 800.35,1028.29 802.35,1028.90 802.85,1028.57 803.60,1027.48 803.80,1027.41 804.10,1027.69 805.10,1029.38 805.60,1029.68 806.35,1029.78 809.35,1029.60 810.60,1029.35 811.35,1028.80 812.35,1027.61 812.85,1027.31 813.10,1027.30 813.60,1027.51 815.60,1029.16 816.35,1029.44 817.35,1029.56 821.35,1029.50 822.10,1029.15 823.10,1028.20 823.40,1028.09 823.85,1028.32 824.85,1029.26 825.85,1029.54 829.10,1029.34 831.35,1028.81 833.35,1029.39 836.85,1029.82 837.60,1029.69 838.85,1028.96 839.35,1029.10 840.10,1029.55 840.60,1029.66 844.10,1029.33 849.35,1029.10 850.10,1028.71 850.35,1028.18 850.60,1026.41 851.30,1011.31 851.85,1024.02 852.10,1027.38 852.35,1028.48 852.60,1028.83 853.10,1029.09 855.10,1029.39 858.85,1029.56 860.60,1029.44 861.60,1029.05 861.85,1028.53 862.10,1026.92 862.70,1018.99 863.35,1027.30 863.60,1028.57 863.85,1028.94 864.10,1029.07 865.10,1029.20 868.60,1029.31 875.60,1029.22 881.10,1029.48 887.10,1029.19 893.10,1029.35 896.85,1028.96 898.10,1028.64 898.85,1028.25 899.60,1027.38 900.10,1025.93 900.35,1024.18 900.60,1019.16 900.85,1003.74 901.50,916.77 902.10,998.56 902.35,1017.28 902.60,1023.65 902.85,1025.76 903.10,1026.76 903.60,1027.80 904.10,1028.32 904.60,1028.61 906.60,1029.07 912.60,1029.49 919.60,1029.18 925.35,1029.45 931.35,1029.25 937.10,1029.61 940.85,1029.44 942.85,1029.05 944.85,1027.99 945.35,1027.38 946.10,1025.31 946.35,1024.94 946.60,1025.26 947.60,1028.38 947.85,1028.70 948.35,1028.95 952.35,1029.17 953.35,1029.07 955.10,1028.61 956.85,1028.76 957.35,1028.44 957.60,1028.01 958.35,1026.03 958.60,1025.77 958.85,1026.03 959.85,1028.47 960.10,1028.74 960.60,1028.90 961.35,1028.71 962.10,1028.04 962.60,1027.13 963.60,1024.67 964.00,1024.27 964.35,1024.57 965.85,1027.90 966.35,1028.44 966.85,1028.71 967.85,1028.86 968.35,1028.70 968.60,1028.44 969.10,1027.33 969.60,1025.71 969.85,1025.18 970.00,1025.12 970.35,1025.78 971.10,1028.12 971.60,1028.82 972.35,1028.99 974.10,1028.35 975.85,1028.89 977.10,1028.91 978.35,1028.73 978.85,1028.44 979.10,1028.12 979.60,1026.85 980.10,1024.92 980.50,1024.03 980.85,1024.57 981.85,1027.56 982.60,1028.28 983.60,1028.64 984.60,1028.74 985.35,1028.42 986.35,1027.58 986.85,1027.47 987.35,1027.76 988.35,1028.71 989.35,1029.04 990.10,1028.94 990.60,1028.48 991.60,1025.34 991.80,1025.06 992.10,1025.52 992.60,1027.12 992.85,1027.64 993.10,1027.85 994.35,1027.48 995.60,1028.24 996.35,1028.35 996.85,1027.97 997.60,1026.62 998.00,1026.20 998.35,1026.54 999.35,1028.23 999.85,1028.48 1000.35,1028.48 1000.85,1028.14 1001.60,1026.81 1002.00,1026.41 1002.35,1026.80 1003.10,1028.28 1003.60,1028.65 1004.10,1028.57 1004.85,1028.22 1005.35,1028.18 1007.60,1029.46 1009.85,1029.84 1011.10,1029.91 1013.35,1029.91 1019.35,1029.51 1025.10,1029.83 1032.35,1029.94 1039.35,1029.74 1045.60,1030.05 1051.60,1029.71 1058.35,1030.14 1071.35,1029.86 1077.85,1030.02 1083.10,1029.83 1089.10,1030.17 1091.85,1029.96 1096.60,1029.12 1097.10,1028.90 1097.60,1028.48 1098.10,1027.49 1098.35,1026.04 1098.60,1021.48 1099.40,965.62 1100.10,1017.80 1100.35,1024.96 1100.60,1027.26 1101.10,1028.60 1101.60,1029.13 1102.60,1029.60 1103.85,1029.82 1106.10,1029.98 1109.85,1030.01 1115.85,1029.64 1122.10,1030.04 1128.35,1029.79 1135.10,1030.00"/>
</g>
<g><text transform="translate(172.70,229.90) scale(1.0,1.0)" font-family="Liberation Serif" font-weight="bold" font-size="23" fill="#b2001e">11</text><line x1="184.9" y1="240.6" x2="169.4" y2="278.0" stroke="#b2001e" stroke-width="1.3" stroke-linecap="round"/><text transform="translate(278.80,237.80) scale(1.0,1.0)" font-family="Liberation Serif" font-weight="bold" font-size="23" fill="#b2001e">11</text><line x1="290.1" y1="248.1" x2="274.9" y2="277.8" stroke="#b2001e" stroke-width="1.3" stroke-linecap="round"/><text transform="translate(521.40,245.20) scale(1.0,1.0)" font-family="Liberation Serif" font-weight="bold" font-size="23" fill="#b2001e">11</text><line x1="532.4" y1="256.0" x2="532.4" y2="285.3" stroke="#b2001e" stroke-width="1.3" stroke-linecap="round"/><text transform="translate(1025.70,177.20) scale(1.0,1.0)" font-family="Liberation Serif" font-weight="bold" font-size="23" fill="#b2001e">5</text><line x1="1040.5" y1="171.8" x2="1063.0" y2="194.7" stroke="#b2001e" stroke-width="1.3" stroke-linecap="round"/><text transform="translate(165.00,494.90) scale(1.0,1.0)" font-family="Liberation Serif" font-weight="bold" font-size="23" fill="#b2001e">10</text><line x1="176.7" y1="506.0" x2="161.7" y2="543.5" stroke="#b2001e" stroke-width="1.3" stroke-linecap="round"/><text transform="translate(246.50,494.90) scale(1.0,1.0)" font-family="Liberation Serif" font-weight="bold" font-size="23" fill="#b2001e">7</text><line x1="252.7" y1="506.0" x2="237.1" y2="543.1" stroke="#b2001e" stroke-width="1.3" stroke-linecap="round"/><text transform="translate(496.50,494.90) scale(1.0,1.0)" font-family="Liberation Serif" font-weight="bold" font-size="23" fill="#b2001e">7</text><line x1="502.1" y1="506.0" x2="486.7" y2="543.5" stroke="#b2001e" stroke-width="1.3" stroke-linecap="round"/><text transform="translate(574.60,525.30) scale(1.0,1.0)" font-family="Liberation Serif" font-weight="bold" font-size="23" fill="#b2001e">11</text><line x1="585.7" y1="536.0" x2="577.7" y2="565.0" stroke="#b2001e" stroke-width="1.3" stroke-linecap="round"/><text transform="translate(627.20,472.00) scale(1.0,1.0)" font-family="Liberation Serif" font-weight="bold" font-size="23" fill="#b2001e">10</text><line x1="638.3" y1="482.9" x2="669.0" y2="512.7" stroke="#b2001e" stroke-width="1.3" stroke-linecap="round"/><text transform="translate(752.40,403.70) scale(1.0,1.0)" font-family="Liberation Serif" font-weight="bold" font-size="23" fill="#b2001e">3</text><line x1="759.5" y1="415.1" x2="759.5" y2="437.5" stroke="#b2001e" stroke-width="1.3" stroke-linecap="round"/><line x1="737.3" y1="437.5" x2="775.1" y2="437.5" stroke="#b2001e" stroke-width="1.3" stroke-linecap="round"/><text transform="translate(862.10,456.70) scale(1.0,1.0)" font-family="Liberation Serif" font-weight="bold" font-size="23" fill="#b2001e">2</text><line x1="866.5" y1="468.1" x2="858.4" y2="504.5" stroke="#b2001e" stroke-width="1.3" stroke-linecap="round"/><text transform="translate(919.80,464.80) scale(1.0,1.0)" font-family="Liberation Serif" font-weight="bold" font-size="23" fill="#b2001e">4</text><line x1="926.5" y1="475.7" x2="926.5" y2="497.5" stroke="#b2001e" stroke-width="1.3" stroke-linecap="round"/><line x1="919.1" y1="497.5" x2="934.1" y2="497.5" stroke="#b2001e" stroke-width="1.3" stroke-linecap="round"/><text transform="translate(1079.10,464.10) scale(1.0,1.0)" font-family="Liberation Serif" font-weight="bold" font-size="23" fill="#b2001e">7</text><line x1="1085.5" y1="475.7" x2="1085.5" y2="505.5" stroke="#b2001e" stroke-width="1.3" stroke-linecap="round"/><line x1="1078.0" y1="505.5" x2="1100.4" y2="505.5" stroke="#b2001e" stroke-width="1.3" stroke-linecap="round"/><text transform="translate(1109.70,403.70) scale(1.0,1.0)" font-family="Liberation Serif" font-weight="bold" font-size="23" fill="#b2001e">4</text><line x1="1116.1" y1="407.3" x2="1108.0" y2="466.9" stroke="#b2001e" stroke-width="1.3" stroke-linecap="round"/><text transform="translate(155.10,752.00) scale(1.0,1.0)" font-family="Liberation Serif" font-weight="bold" font-size="23" fill="#b2001e">6</text><line x1="161.5" y1="763.8" x2="161.5" y2="786.5" stroke="#b2001e" stroke-width="1.3" stroke-linecap="round"/><line x1="146.3" y1="786.5" x2="168.8" y2="786.5" stroke="#b2001e" stroke-width="1.3" stroke-linecap="round"/><text transform="translate(184.40,759.50) scale(1.0,1.0)" font-family="Liberation Serif" font-weight="bold" font-size="23" fill="#b2001e">3</text><line x1="191.5" y1="771.1" x2="191.5" y2="793.5" stroke="#b2001e" stroke-width="1.3" stroke-linecap="round"/><line x1="176.7" y1="793.5" x2="206.7" y2="793.5" stroke="#b2001e" stroke-width="1.3" stroke-linecap="round"/><text transform="translate(245.00,759.50) scale(1.0,1.0)" font-family="Liberation Serif" font-weight="bold" font-size="23" fill="#b2001e">3</text><line x1="252.5" y1="771.1" x2="252.5" y2="793.5" stroke="#b2001e" stroke-width="1.3" stroke-linecap="round"/><line x1="237.4" y1="793.5" x2="267.3" y2="793.5" stroke="#b2001e" stroke-width="1.3" stroke-linecap="round"/><text transform="translate(496.00,714.00) scale(1.0,1.0)" font-family="Liberation Serif" font-weight="bold" font-size="23" fill="#b2001e">9</text><line x1="502.3" y1="725.2" x2="524.8" y2="754.6" stroke="#b2001e" stroke-width="1.3" stroke-linecap="round"/><text transform="translate(556.10,759.70) scale(1.0,1.0)" font-family="Liberation Serif" font-weight="bold" font-size="23" fill="#b2001e">8</text><line x1="562.5" y1="771.4" x2="562.5" y2="793.5" stroke="#b2001e" stroke-width="1.3" stroke-linecap="round"/><line x1="547.6" y1="793.5" x2="578.0" y2="793.5" stroke="#b2001e" stroke-width="1.3" stroke-linecap="round"/><text transform="translate(586.20,721.40) scale(1.0,1.0)" font-family="Liberation Serif" font-weight="bold" font-size="23" fill="#b2001e">6</text><line x1="592.5" y1="733.1" x2="592.5" y2="763.5" stroke="#b2001e" stroke-width="1.3" stroke-linecap="round"/><line x1="578.0" y1="763.5" x2="604.4" y2="763.5" stroke="#b2001e" stroke-width="1.3" stroke-linecap="round"/><text transform="translate(753.30,759.70) scale(1.0,1.0)" font-family="Liberation Serif" font-weight="bold" font-size="23" fill="#b2001e">8</text><line x1="759.5" y1="771.4" x2="759.5" y2="793.5" stroke="#b2001e" stroke-width="1.3" stroke-linecap="round"/><line x1="744.8" y1="793.5" x2="774.9" y2="793.5" stroke="#b2001e" stroke-width="1.3" stroke-linecap="round"/><text transform="translate(841.50,707.80) scale(1.0,1.0)" font-family="Liberation Serif" font-weight="bold" font-size="23" fill="#b2001e">1</text><line x1="843.1" y1="718.3" x2="820.1" y2="770.2" stroke="#b2001e" stroke-width="1.3" stroke-linecap="round"/><text transform="translate(863.20,728.80) scale(1.0,1.0)" font-family="Liberation Serif" font-weight="bold" font-size="23" fill="#b2001e">6</text><line x1="865.9" y1="741.3" x2="843.6" y2="785.8" stroke="#b2001e" stroke-width="1.3" stroke-linecap="round"/><line x1="828.8" y1="785.8" x2="858.5" y2="785.8" stroke="#b2001e" stroke-width="1.3" stroke-linecap="round"/><text transform="translate(1089.60,752.50) scale(1.0,1.0)" font-family="Liberation Serif" font-weight="bold" font-size="23" fill="#b2001e">2</text><line x1="1093.6" y1="763.7" x2="1085.3" y2="794.1" stroke="#b2001e" stroke-width="1.3" stroke-linecap="round"/><text transform="translate(1076.60,948.90) scale(0.975,1.0)" font-family="Liberation Serif" font-weight="bold" font-size="23" fill="#b2001e">TSP</text></g>
</svg>
</body></html>
